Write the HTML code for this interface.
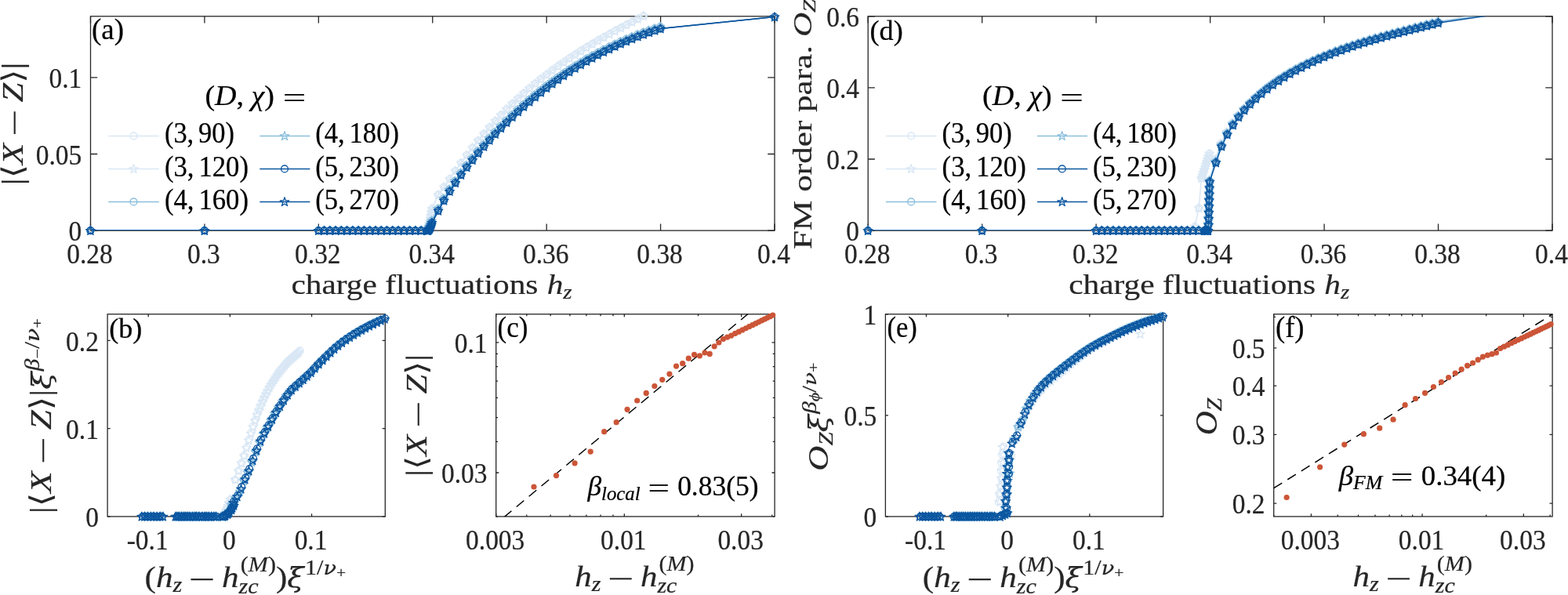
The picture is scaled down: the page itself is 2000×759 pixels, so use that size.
<!DOCTYPE html>
<html><head><meta charset="utf-8"><title>Figure</title>
<style>html,body{margin:0;padding:0;background:#fff;overflow:hidden}svg{display:block}</style></head>
<body><svg width="2000" height="759" viewBox="0 0 2000 759"><defs><path id="st" d="M0.00,-5.70 L1.35,-1.55 L5.71,-1.55 L2.18,1.01 L3.53,5.15 L0.00,2.59 L-3.53,5.15 L-2.18,1.01 L-5.71,-1.55 L-1.35,-1.55 Z" fill="none" stroke-width="1.35" stroke-linejoin="round"/><circle id="ci" r="4.4" fill="none" stroke-width="1.35"/><path id="stS" d="M0.00,-4.30 L1.03,-1.12 L4.37,-1.12 L1.67,0.84 L2.70,4.02 L0.00,2.06 L-2.70,4.02 L-1.67,0.84 L-4.37,-1.12 L-1.03,-1.12 Z" fill="none" stroke-width="1.0"/><circle id="ciS" r="3.2" fill="none" stroke-width="1.0"/><clipPath id="clipa"><rect x="115.5" y="20.8" width="872.5" height="273.3"/></clipPath><clipPath id="clipd"><rect x="1107.2" y="20.8" width="872.8" height="273.3"/></clipPath><clipPath id="clipb"><rect x="137.1" y="400.75" width="354.20000000000005" height="258.15"/></clipPath><clipPath id="clipc"><rect x="632.7" y="400.75" width="355.4" height="258.15"/></clipPath><clipPath id="clipe"><rect x="1129.4" y="400.75" width="354.1999999999998" height="258.15"/></clipPath><clipPath id="clipf"><rect x="1624.7" y="400.75" width="355.39999999999986" height="258.15"/></clipPath></defs><rect width="2000" height="759" fill="#fff"/><g font-family="'Liberation Serif', serif" font-size="35.0" fill="#262626" stroke="#262626" stroke-width="0.25"><rect x="115.50" y="20.80" width="872.50" height="273.30" fill="none" stroke="#262626" stroke-width="1.3"/><path d="M115.50,294.10V285.40M115.50,20.80V29.50M260.92,294.10V285.40M260.92,20.80V29.50M406.33,294.10V285.40M406.33,20.80V29.50M551.75,294.10V285.40M551.75,20.80V29.50M697.17,294.10V285.40M697.17,20.80V29.50M842.58,294.10V285.40M842.58,20.80V29.50M988.00,294.10V285.40M988.00,20.80V29.50M115.50,294.10H124.20M988.00,294.10H979.30M115.50,196.49H124.20M988.00,196.49H979.30M115.50,98.89H124.20M988.00,98.89H979.30" fill="none" stroke="#262626" stroke-width="1.3"/><text transform="translate(114.50,336.30) scale(0.955,1)" text-anchor="middle">0.28</text><text transform="translate(259.92,336.30) scale(0.955,1)" text-anchor="middle">0.3</text><text transform="translate(405.33,336.30) scale(0.955,1)" text-anchor="middle">0.32</text><text transform="translate(550.75,336.30) scale(0.955,1)" text-anchor="middle">0.34</text><text transform="translate(696.17,336.30) scale(0.955,1)" text-anchor="middle">0.36</text><text transform="translate(841.58,336.30) scale(0.955,1)" text-anchor="middle">0.38</text><text transform="translate(987.00,336.30) scale(0.955,1)" text-anchor="middle">0.4</text><text transform="translate(104.30,307.20) scale(0.955,1)" text-anchor="end">0</text><text transform="translate(104.30,209.59) scale(0.955,1)" text-anchor="end">0.05</text><text transform="translate(104.30,111.99) scale(0.955,1)" text-anchor="end">0.1</text><rect x="1107.20" y="20.80" width="872.80" height="273.30" fill="none" stroke="#262626" stroke-width="1.3"/><path d="M1107.20,294.10V285.40M1107.20,20.80V29.50M1252.67,294.10V285.40M1252.67,20.80V29.50M1398.13,294.10V285.40M1398.13,20.80V29.50M1543.60,294.10V285.40M1543.60,20.80V29.50M1689.07,294.10V285.40M1689.07,20.80V29.50M1834.53,294.10V285.40M1834.53,20.80V29.50M1980.00,294.10V285.40M1980.00,20.80V29.50M1107.20,294.10H1115.90M1980.00,294.10H1971.30M1107.20,203.00H1115.90M1980.00,203.00H1971.30M1107.20,111.90H1115.90M1980.00,111.90H1971.30M1107.20,20.80H1115.90M1980.00,20.80H1971.30" fill="none" stroke="#262626" stroke-width="1.3"/><text transform="translate(1106.20,336.30) scale(0.955,1)" text-anchor="middle">0.28</text><text transform="translate(1251.67,336.30) scale(0.955,1)" text-anchor="middle">0.3</text><text transform="translate(1397.13,336.30) scale(0.955,1)" text-anchor="middle">0.32</text><text transform="translate(1542.60,336.30) scale(0.955,1)" text-anchor="middle">0.34</text><text transform="translate(1688.07,336.30) scale(0.955,1)" text-anchor="middle">0.36</text><text transform="translate(1833.53,336.30) scale(0.955,1)" text-anchor="middle">0.38</text><text transform="translate(1979.00,336.30) scale(0.955,1)" text-anchor="middle">0.4</text><text transform="translate(1096.00,307.20) scale(0.955,1)" text-anchor="end">0</text><text transform="translate(1096.00,216.10) scale(0.955,1)" text-anchor="end">0.2</text><text transform="translate(1096.00,125.00) scale(0.955,1)" text-anchor="end">0.4</text><text transform="translate(1096.00,33.90) scale(0.955,1)" text-anchor="end">0.6</text><rect x="137.10" y="400.75" width="354.20" height="258.15" fill="none" stroke="#262626" stroke-width="1.3"/><path d="M189.19,658.90V655.30M189.19,400.75V404.35M293.36,658.90V655.30M293.36,400.75V404.35M397.54,658.90V655.30M397.54,400.75V404.35M137.10,658.90H140.70M491.30,658.90H487.70M137.10,546.66H140.70M491.30,546.66H487.70M137.10,434.42H140.70M491.30,434.42H487.70" fill="none" stroke="#262626" stroke-width="1.3"/><text transform="translate(188.19,701.10) scale(0.955,1)" text-anchor="middle">-0.1</text><text transform="translate(292.36,701.10) scale(0.955,1)" text-anchor="middle">0</text><text transform="translate(396.54,701.10) scale(0.955,1)" text-anchor="middle">0.1</text><text transform="translate(125.90,672.00) scale(0.955,1)" text-anchor="end">0</text><text transform="translate(125.90,559.76) scale(0.955,1)" text-anchor="end">0.1</text><text transform="translate(125.90,447.52) scale(0.955,1)" text-anchor="end">0.2</text><rect x="1129.40" y="400.75" width="354.20" height="258.15" fill="none" stroke="#262626" stroke-width="1.3"/><path d="M1181.49,658.90V655.30M1181.49,400.75V404.35M1285.66,658.90V655.30M1285.66,400.75V404.35M1389.84,658.90V655.30M1389.84,400.75V404.35M1129.40,658.90H1133.00M1483.60,658.90H1480.00M1129.40,529.83H1133.00M1483.60,529.83H1480.00M1129.40,400.75H1133.00M1483.60,400.75H1480.00" fill="none" stroke="#262626" stroke-width="1.3"/><text transform="translate(1180.49,701.10) scale(0.955,1)" text-anchor="middle">-0.1</text><text transform="translate(1284.66,701.10) scale(0.955,1)" text-anchor="middle">0</text><text transform="translate(1388.84,701.10) scale(0.955,1)" text-anchor="middle">0.1</text><text transform="translate(1118.20,672.00) scale(0.955,1)" text-anchor="end">0</text><text transform="translate(1118.20,542.93) scale(0.955,1)" text-anchor="end">0.5</text><text transform="translate(1118.20,413.85) scale(0.955,1)" text-anchor="end">1</text><rect x="632.70" y="400.75" width="355.40" height="258.15" fill="none" stroke="#262626" stroke-width="1.3"/><path d="M632.70,658.90V655.30M632.70,400.75V404.35M796.33,658.90V655.30M796.33,400.75V404.35M945.65,658.90V655.30M945.65,400.75V404.35M632.70,602.98H636.30M988.10,602.98H984.50M632.70,436.93H636.30M988.10,436.93H984.50M671.80,658.90V656.50M671.80,400.75V403.15M702.13,658.90V656.50M702.13,400.75V403.15M726.91,658.90V656.50M726.91,400.75V403.15M747.86,658.90V656.50M747.86,400.75V403.15M766.00,658.90V656.50M766.00,400.75V403.15M782.01,658.90V656.50M782.01,400.75V403.15M890.54,658.90V656.50M890.54,400.75V403.15M984.74,658.90V656.50M984.74,400.75V403.15M632.70,658.90H635.10M988.10,658.90H985.70M632.70,563.30H635.10M988.10,563.30H985.70M632.70,532.53H635.10M988.10,532.53H985.70M632.70,507.38H635.10M988.10,507.38H985.70M632.70,486.12H635.10M988.10,486.12H985.70M632.70,467.71H635.10M988.10,467.71H985.70M632.70,451.46H635.10M988.10,451.46H985.70" fill="none" stroke="#262626" stroke-width="1.3"/><text transform="translate(631.70,701.10) scale(0.955,1)" text-anchor="middle">0.003</text><text transform="translate(795.33,701.10) scale(0.955,1)" text-anchor="middle">0.01</text><text transform="translate(944.65,701.10) scale(0.955,1)" text-anchor="middle">0.03</text><text transform="translate(621.50,616.08) scale(0.955,1)" text-anchor="end">0.03</text><text transform="translate(621.50,450.03) scale(0.955,1)" text-anchor="end">0.1</text><rect x="1624.70" y="400.75" width="355.40" height="258.15" fill="none" stroke="#262626" stroke-width="1.3"/><path d="M1672.41,658.90V655.30M1672.41,400.75V404.35M1814.08,658.90V655.30M1814.08,400.75V404.35M1943.34,658.90V655.30M1943.34,400.75V404.35M1624.70,642.03H1628.30M1980.10,642.03H1976.50M1624.70,554.30H1628.30M1980.10,554.30H1976.50M1624.70,492.06H1628.30M1980.10,492.06H1976.50M1624.70,443.78H1628.30M1980.10,443.78H1976.50M1624.70,658.90V656.50M1624.70,400.75V403.15M1706.26,658.90V656.50M1706.26,400.75V403.15M1732.52,658.90V656.50M1732.52,400.75V403.15M1753.97,658.90V656.50M1753.97,400.75V403.15M1772.11,658.90V656.50M1772.11,400.75V403.15M1787.82,658.90V656.50M1787.82,400.75V403.15M1801.68,658.90V656.50M1801.68,400.75V403.15M1895.63,658.90V656.50M1895.63,400.75V403.15M1977.19,658.90V656.50M1977.19,400.75V403.15M1624.70,404.33H1627.10M1980.10,404.33H1977.70" fill="none" stroke="#262626" stroke-width="1.3"/><text transform="translate(1671.41,701.10) scale(0.955,1)" text-anchor="middle">0.003</text><text transform="translate(1813.08,701.10) scale(0.955,1)" text-anchor="middle">0.01</text><text transform="translate(1942.34,701.10) scale(0.955,1)" text-anchor="middle">0.03</text><text transform="translate(1613.50,655.13) scale(0.955,1)" text-anchor="end">0.2</text><text transform="translate(1613.50,567.40) scale(0.955,1)" text-anchor="end">0.3</text><text transform="translate(1613.50,505.16) scale(0.955,1)" text-anchor="end">0.4</text><text transform="translate(1613.50,456.88) scale(0.955,1)" text-anchor="end">0.5</text></g><path d="M115.50,294.10 L260.92,294.10 L406.33,294.10 L413.60,294.10 L420.87,294.10 L428.15,294.10 L435.42,294.10 L442.69,294.10 L449.96,294.10 L457.23,294.10 L464.50,294.10 L471.77,294.10 L479.04,294.10 L486.31,294.10 L493.58,294.10 L500.85,294.10 L508.12,294.10 L515.40,294.10 L522.67,294.10 L529.94,294.10 L537.21,294.10 L544.48,294.10 L545.21,293.06 L545.93,291.17 L546.66,288.71 L547.39,285.80 L548.11,282.51 L548.84,278.86 L549.57,274.89 L550.30,270.63 L551.02,266.10 L559.02,248.43 L566.29,238.64 L573.56,228.23 L580.83,217.84 L588.10,207.69 L595.38,197.87 L602.65,188.42 L609.92,179.34 L617.19,170.62 L624.46,162.27 L631.73,154.26 L639.00,146.58 L646.27,139.21 L653.54,132.14 L660.81,125.34 L668.08,118.81 L675.35,112.53 L682.63,106.48 L689.90,100.65 L697.17,95.03 L704.44,89.60 L711.71,84.35 L718.98,79.27 L726.25,74.35 L733.52,69.58 L740.79,64.94 L748.06,60.43 L755.33,56.03 L762.60,51.75 L769.88,47.56 L777.15,43.47 L784.42,39.46 L791.69,35.52 L798.96,31.66 L806.23,27.85 L813.50,24.10 L820.77,20.39" fill="none" stroke="#d9e7f5" stroke-width="1.5" clip-path="url(#clipa)"/><g stroke="#d9e7f5"><use href="#ci" x="115.50" y="294.10"/><use href="#ci" x="260.92" y="294.10"/><use href="#ci" x="406.33" y="294.10"/><use href="#ci" x="413.60" y="294.10"/><use href="#ci" x="420.87" y="294.10"/><use href="#ci" x="428.15" y="294.10"/><use href="#ci" x="435.42" y="294.10"/><use href="#ci" x="442.69" y="294.10"/><use href="#ci" x="449.96" y="294.10"/><use href="#ci" x="457.23" y="294.10"/><use href="#ci" x="464.50" y="294.10"/><use href="#ci" x="471.77" y="294.10"/><use href="#ci" x="479.04" y="294.10"/><use href="#ci" x="486.31" y="294.10"/><use href="#ci" x="493.58" y="294.10"/><use href="#ci" x="500.85" y="294.10"/><use href="#ci" x="508.12" y="294.10"/><use href="#ci" x="515.40" y="294.10"/><use href="#ci" x="522.67" y="294.10"/><use href="#ci" x="529.94" y="294.10"/><use href="#ci" x="537.21" y="294.10"/><use href="#ci" x="544.48" y="294.10"/><use href="#ci" x="545.21" y="293.06"/><use href="#ci" x="545.93" y="291.17"/><use href="#ci" x="546.66" y="288.71"/><use href="#ci" x="547.39" y="285.80"/><use href="#ci" x="548.11" y="282.51"/><use href="#ci" x="548.84" y="278.86"/><use href="#ci" x="549.57" y="274.89"/><use href="#ci" x="550.30" y="270.63"/><use href="#ci" x="551.02" y="266.10"/><use href="#ci" x="559.02" y="248.43"/><use href="#ci" x="566.29" y="238.64"/><use href="#ci" x="573.56" y="228.23"/><use href="#ci" x="580.83" y="217.84"/><use href="#ci" x="588.10" y="207.69"/><use href="#ci" x="595.38" y="197.87"/><use href="#ci" x="602.65" y="188.42"/><use href="#ci" x="609.92" y="179.34"/><use href="#ci" x="617.19" y="170.62"/><use href="#ci" x="624.46" y="162.27"/><use href="#ci" x="631.73" y="154.26"/><use href="#ci" x="639.00" y="146.58"/><use href="#ci" x="646.27" y="139.21"/><use href="#ci" x="653.54" y="132.14"/><use href="#ci" x="660.81" y="125.34"/><use href="#ci" x="668.08" y="118.81"/><use href="#ci" x="675.35" y="112.53"/><use href="#ci" x="682.63" y="106.48"/><use href="#ci" x="689.90" y="100.65"/><use href="#ci" x="697.17" y="95.03"/><use href="#ci" x="704.44" y="89.60"/><use href="#ci" x="711.71" y="84.35"/><use href="#ci" x="718.98" y="79.27"/><use href="#ci" x="726.25" y="74.35"/><use href="#ci" x="733.52" y="69.58"/><use href="#ci" x="740.79" y="64.94"/><use href="#ci" x="748.06" y="60.43"/><use href="#ci" x="755.33" y="56.03"/><use href="#ci" x="762.60" y="51.75"/><use href="#ci" x="769.88" y="47.56"/><use href="#ci" x="777.15" y="43.47"/><use href="#ci" x="784.42" y="39.46"/><use href="#ci" x="791.69" y="35.52"/><use href="#ci" x="798.96" y="31.66"/><use href="#ci" x="806.23" y="27.85"/><use href="#ci" x="813.50" y="24.10"/><use href="#ci" x="820.77" y="20.39"/></g><path d="M115.50,294.10 L260.92,294.10 L406.33,294.10 L413.60,294.10 L420.87,294.10 L428.15,294.10 L435.42,294.10 L442.69,294.10 L449.96,294.10 L457.23,294.10 L464.50,294.10 L471.77,294.10 L479.04,294.10 L486.31,294.10 L493.58,294.10 L500.85,294.10 L508.12,294.10 L515.40,294.10 L522.67,294.10 L529.94,294.10 L537.21,294.10 L544.48,294.10 L545.21,293.06 L545.93,291.17 L546.66,288.71 L547.39,285.80 L548.11,282.51 L548.84,278.86 L549.57,274.89 L550.30,270.63 L551.02,266.10 L559.02,248.43 L566.29,238.64 L573.56,228.23 L580.83,217.84 L588.10,207.69 L595.38,197.87 L602.65,188.42 L609.92,179.34 L617.19,170.62 L624.46,162.27 L631.73,154.26 L639.00,146.58 L646.27,139.21 L653.54,132.14 L660.81,125.34 L668.08,118.81 L675.35,112.53 L682.63,106.48 L689.90,100.65 L697.17,95.03 L704.44,89.60 L711.71,84.35 L718.98,79.27 L726.25,74.35 L733.52,69.58 L740.79,64.94 L748.06,60.43 L755.33,56.03 L762.60,51.75 L769.88,47.56 L777.15,43.47 L784.42,39.46 L791.69,35.52 L798.96,31.66 L806.23,27.85 L813.50,24.10 L820.77,20.39" fill="none" stroke="#d9e7f5" stroke-width="1.5" clip-path="url(#clipa)"/><g stroke="#d9e7f5"><use href="#st" x="115.50" y="294.10"/><use href="#st" x="260.92" y="294.10"/><use href="#st" x="406.33" y="294.10"/><use href="#st" x="413.60" y="294.10"/><use href="#st" x="420.87" y="294.10"/><use href="#st" x="428.15" y="294.10"/><use href="#st" x="435.42" y="294.10"/><use href="#st" x="442.69" y="294.10"/><use href="#st" x="449.96" y="294.10"/><use href="#st" x="457.23" y="294.10"/><use href="#st" x="464.50" y="294.10"/><use href="#st" x="471.77" y="294.10"/><use href="#st" x="479.04" y="294.10"/><use href="#st" x="486.31" y="294.10"/><use href="#st" x="493.58" y="294.10"/><use href="#st" x="500.85" y="294.10"/><use href="#st" x="508.12" y="294.10"/><use href="#st" x="515.40" y="294.10"/><use href="#st" x="522.67" y="294.10"/><use href="#st" x="529.94" y="294.10"/><use href="#st" x="537.21" y="294.10"/><use href="#st" x="544.48" y="294.10"/><use href="#st" x="545.21" y="293.06"/><use href="#st" x="545.93" y="291.17"/><use href="#st" x="546.66" y="288.71"/><use href="#st" x="547.39" y="285.80"/><use href="#st" x="548.11" y="282.51"/><use href="#st" x="548.84" y="278.86"/><use href="#st" x="549.57" y="274.89"/><use href="#st" x="550.30" y="270.63"/><use href="#st" x="551.02" y="266.10"/><use href="#st" x="559.02" y="248.43"/><use href="#st" x="566.29" y="238.64"/><use href="#st" x="573.56" y="228.23"/><use href="#st" x="580.83" y="217.84"/><use href="#st" x="588.10" y="207.69"/><use href="#st" x="595.38" y="197.87"/><use href="#st" x="602.65" y="188.42"/><use href="#st" x="609.92" y="179.34"/><use href="#st" x="617.19" y="170.62"/><use href="#st" x="624.46" y="162.27"/><use href="#st" x="631.73" y="154.26"/><use href="#st" x="639.00" y="146.58"/><use href="#st" x="646.27" y="139.21"/><use href="#st" x="653.54" y="132.14"/><use href="#st" x="660.81" y="125.34"/><use href="#st" x="668.08" y="118.81"/><use href="#st" x="675.35" y="112.53"/><use href="#st" x="682.63" y="106.48"/><use href="#st" x="689.90" y="100.65"/><use href="#st" x="697.17" y="95.03"/><use href="#st" x="704.44" y="89.60"/><use href="#st" x="711.71" y="84.35"/><use href="#st" x="718.98" y="79.27"/><use href="#st" x="726.25" y="74.35"/><use href="#st" x="733.52" y="69.58"/><use href="#st" x="740.79" y="64.94"/><use href="#st" x="748.06" y="60.43"/><use href="#st" x="755.33" y="56.03"/><use href="#st" x="762.60" y="51.75"/><use href="#st" x="769.88" y="47.56"/><use href="#st" x="777.15" y="43.47"/><use href="#st" x="784.42" y="39.46"/><use href="#st" x="791.69" y="35.52"/><use href="#st" x="798.96" y="31.66"/><use href="#st" x="806.23" y="27.85"/><use href="#st" x="813.50" y="24.10"/><use href="#st" x="820.77" y="20.39"/></g><path d="M115.00,294.10 L260.42,294.10 L405.83,294.10 L413.10,294.10 L420.37,294.10 L427.65,294.10 L434.92,294.10 L442.19,294.10 L449.46,294.10 L456.73,294.10 L464.00,294.10 L471.27,294.10 L478.54,294.10 L485.81,294.10 L493.08,294.10 L500.35,294.10 L507.62,294.10 L514.90,294.10 L522.17,294.10 L529.44,294.10 L536.71,294.10 L543.98,294.10 L544.71,294.06 L545.43,293.87 L546.16,293.46 L546.89,290.28 L547.61,289.30 L548.34,287.97 L549.07,286.26 L549.80,284.15 L550.52,281.60 L558.52,266.34 L565.79,253.32 L573.06,241.65 L580.33,230.82 L587.60,220.63 L594.88,210.96 L602.15,201.75 L609.42,192.93 L616.69,184.47 L623.96,176.35 L631.23,168.53 L638.50,161.01 L645.77,153.76 L653.04,146.76 L660.31,140.02 L667.58,133.52 L674.85,127.24 L682.13,121.18 L689.40,115.34 L696.67,109.71 L703.94,104.28 L711.21,99.04 L718.48,94.00 L725.75,89.14 L733.02,84.47 L740.29,79.97 L747.56,75.65 L754.83,71.50 L762.10,67.52 L769.38,63.70 L776.65,60.05 L783.92,56.56 L791.19,53.22 L798.46,50.04 L805.73,47.01 L813.00,44.13 L820.27,41.40 L827.54,38.81 L834.81,36.38 L842.08,34.08" fill="none" stroke="#8bbfdd" stroke-width="1.5" clip-path="url(#clipa)"/><g stroke="#8bbfdd"><use href="#ci" x="115.00" y="294.10"/><use href="#ci" x="260.42" y="294.10"/><use href="#ci" x="405.83" y="294.10"/><use href="#ci" x="413.10" y="294.10"/><use href="#ci" x="420.37" y="294.10"/><use href="#ci" x="427.65" y="294.10"/><use href="#ci" x="434.92" y="294.10"/><use href="#ci" x="442.19" y="294.10"/><use href="#ci" x="449.46" y="294.10"/><use href="#ci" x="456.73" y="294.10"/><use href="#ci" x="464.00" y="294.10"/><use href="#ci" x="471.27" y="294.10"/><use href="#ci" x="478.54" y="294.10"/><use href="#ci" x="485.81" y="294.10"/><use href="#ci" x="493.08" y="294.10"/><use href="#ci" x="500.35" y="294.10"/><use href="#ci" x="507.62" y="294.10"/><use href="#ci" x="514.90" y="294.10"/><use href="#ci" x="522.17" y="294.10"/><use href="#ci" x="529.44" y="294.10"/><use href="#ci" x="536.71" y="294.10"/><use href="#ci" x="543.98" y="294.10"/><use href="#ci" x="544.71" y="294.06"/><use href="#ci" x="545.43" y="293.87"/><use href="#ci" x="546.16" y="293.46"/><use href="#ci" x="546.89" y="290.28"/><use href="#ci" x="547.61" y="289.30"/><use href="#ci" x="548.34" y="287.97"/><use href="#ci" x="549.07" y="286.26"/><use href="#ci" x="549.80" y="284.15"/><use href="#ci" x="550.52" y="281.60"/><use href="#ci" x="558.52" y="266.34"/><use href="#ci" x="565.79" y="253.32"/><use href="#ci" x="573.06" y="241.65"/><use href="#ci" x="580.33" y="230.82"/><use href="#ci" x="587.60" y="220.63"/><use href="#ci" x="594.88" y="210.96"/><use href="#ci" x="602.15" y="201.75"/><use href="#ci" x="609.42" y="192.93"/><use href="#ci" x="616.69" y="184.47"/><use href="#ci" x="623.96" y="176.35"/><use href="#ci" x="631.23" y="168.53"/><use href="#ci" x="638.50" y="161.01"/><use href="#ci" x="645.77" y="153.76"/><use href="#ci" x="653.04" y="146.76"/><use href="#ci" x="660.31" y="140.02"/><use href="#ci" x="667.58" y="133.52"/><use href="#ci" x="674.85" y="127.24"/><use href="#ci" x="682.13" y="121.18"/><use href="#ci" x="689.40" y="115.34"/><use href="#ci" x="696.67" y="109.71"/><use href="#ci" x="703.94" y="104.28"/><use href="#ci" x="711.21" y="99.04"/><use href="#ci" x="718.48" y="94.00"/><use href="#ci" x="725.75" y="89.14"/><use href="#ci" x="733.02" y="84.47"/><use href="#ci" x="740.29" y="79.97"/><use href="#ci" x="747.56" y="75.65"/><use href="#ci" x="754.83" y="71.50"/><use href="#ci" x="762.10" y="67.52"/><use href="#ci" x="769.38" y="63.70"/><use href="#ci" x="776.65" y="60.05"/><use href="#ci" x="783.92" y="56.56"/><use href="#ci" x="791.19" y="53.22"/><use href="#ci" x="798.46" y="50.04"/><use href="#ci" x="805.73" y="47.01"/><use href="#ci" x="813.00" y="44.13"/><use href="#ci" x="820.27" y="41.40"/><use href="#ci" x="827.54" y="38.81"/><use href="#ci" x="834.81" y="36.38"/><use href="#ci" x="842.08" y="34.08"/></g><path d="M115.00,294.10 L260.42,294.10 L405.83,294.10 L413.10,294.10 L420.37,294.10 L427.65,294.10 L434.92,294.10 L442.19,294.10 L449.46,294.10 L456.73,294.10 L464.00,294.10 L471.27,294.10 L478.54,294.10 L485.81,294.10 L493.08,294.10 L500.35,294.10 L507.62,294.10 L514.90,294.10 L522.17,294.10 L529.44,294.10 L536.71,294.10 L543.98,294.10 L544.71,294.06 L545.43,293.87 L546.16,293.46 L546.89,290.28 L547.61,289.30 L548.34,287.97 L549.07,286.26 L549.80,284.15 L550.52,281.60 L558.52,266.34 L565.79,253.32 L573.06,241.65 L580.33,230.82 L587.60,220.63 L594.88,210.96 L602.15,201.75 L609.42,192.93 L616.69,184.47 L623.96,176.35 L631.23,168.53 L638.50,161.01 L645.77,153.76 L653.04,146.76 L660.31,140.02 L667.58,133.52 L674.85,127.24 L682.13,121.18 L689.40,115.34 L696.67,109.71 L703.94,104.28 L711.21,99.04 L718.48,94.00 L725.75,89.14 L733.02,84.47 L740.29,79.97 L747.56,75.65 L754.83,71.50 L762.10,67.52 L769.38,63.70 L776.65,60.05 L783.92,56.56 L791.19,53.22 L798.46,50.04 L805.73,47.01 L813.00,44.13 L820.27,41.40 L827.54,38.81 L834.81,36.38 L842.08,34.08" fill="none" stroke="#8bbfdd" stroke-width="1.5" clip-path="url(#clipa)"/><g stroke="#8bbfdd"><use href="#st" x="115.00" y="294.10"/><use href="#st" x="260.42" y="294.10"/><use href="#st" x="405.83" y="294.10"/><use href="#st" x="413.10" y="294.10"/><use href="#st" x="420.37" y="294.10"/><use href="#st" x="427.65" y="294.10"/><use href="#st" x="434.92" y="294.10"/><use href="#st" x="442.19" y="294.10"/><use href="#st" x="449.46" y="294.10"/><use href="#st" x="456.73" y="294.10"/><use href="#st" x="464.00" y="294.10"/><use href="#st" x="471.27" y="294.10"/><use href="#st" x="478.54" y="294.10"/><use href="#st" x="485.81" y="294.10"/><use href="#st" x="493.08" y="294.10"/><use href="#st" x="500.35" y="294.10"/><use href="#st" x="507.62" y="294.10"/><use href="#st" x="514.90" y="294.10"/><use href="#st" x="522.17" y="294.10"/><use href="#st" x="529.44" y="294.10"/><use href="#st" x="536.71" y="294.10"/><use href="#st" x="543.98" y="294.10"/><use href="#st" x="544.71" y="294.06"/><use href="#st" x="545.43" y="293.87"/><use href="#st" x="546.16" y="293.46"/><use href="#st" x="546.89" y="290.28"/><use href="#st" x="547.61" y="289.30"/><use href="#st" x="548.34" y="287.97"/><use href="#st" x="549.07" y="286.26"/><use href="#st" x="549.80" y="284.15"/><use href="#st" x="550.52" y="281.60"/><use href="#st" x="558.52" y="266.34"/><use href="#st" x="565.79" y="253.32"/><use href="#st" x="573.06" y="241.65"/><use href="#st" x="580.33" y="230.82"/><use href="#st" x="587.60" y="220.63"/><use href="#st" x="594.88" y="210.96"/><use href="#st" x="602.15" y="201.75"/><use href="#st" x="609.42" y="192.93"/><use href="#st" x="616.69" y="184.47"/><use href="#st" x="623.96" y="176.35"/><use href="#st" x="631.23" y="168.53"/><use href="#st" x="638.50" y="161.01"/><use href="#st" x="645.77" y="153.76"/><use href="#st" x="653.04" y="146.76"/><use href="#st" x="660.31" y="140.02"/><use href="#st" x="667.58" y="133.52"/><use href="#st" x="674.85" y="127.24"/><use href="#st" x="682.13" y="121.18"/><use href="#st" x="689.40" y="115.34"/><use href="#st" x="696.67" y="109.71"/><use href="#st" x="703.94" y="104.28"/><use href="#st" x="711.21" y="99.04"/><use href="#st" x="718.48" y="94.00"/><use href="#st" x="725.75" y="89.14"/><use href="#st" x="733.02" y="84.47"/><use href="#st" x="740.29" y="79.97"/><use href="#st" x="747.56" y="75.65"/><use href="#st" x="754.83" y="71.50"/><use href="#st" x="762.10" y="67.52"/><use href="#st" x="769.38" y="63.70"/><use href="#st" x="776.65" y="60.05"/><use href="#st" x="783.92" y="56.56"/><use href="#st" x="791.19" y="53.22"/><use href="#st" x="798.46" y="50.04"/><use href="#st" x="805.73" y="47.01"/><use href="#st" x="813.00" y="44.13"/><use href="#st" x="820.27" y="41.40"/><use href="#st" x="827.54" y="38.81"/><use href="#st" x="834.81" y="36.38"/><use href="#st" x="842.08" y="34.08"/></g><path d="M115.50,294.10 L260.92,294.10 L406.33,294.10 L413.60,294.10 L420.87,294.10 L428.15,294.10 L435.42,294.10 L442.69,294.10 L449.96,294.10 L457.23,294.10 L464.50,294.10 L471.77,294.10 L479.04,294.10 L486.31,294.10 L493.58,294.10 L500.85,294.10 L508.12,294.10 L515.40,294.10 L522.67,294.10 L529.94,294.10 L537.21,294.10 L544.48,294.10 L545.21,294.06 L545.93,293.87 L546.66,293.46 L547.39,292.78 L548.11,291.80 L548.84,290.47 L549.57,288.76 L550.30,286.65 L551.02,284.10 L559.02,268.84 L566.29,255.82 L573.56,244.15 L580.83,233.32 L588.10,223.13 L595.38,213.46 L602.65,204.25 L609.92,195.43 L617.19,186.97 L624.46,178.85 L631.73,171.03 L639.00,163.51 L646.27,156.26 L653.54,149.26 L660.81,142.52 L668.08,136.02 L675.35,129.74 L682.63,123.68 L689.90,117.84 L697.17,112.21 L704.44,106.78 L711.71,101.54 L718.98,96.50 L726.25,91.64 L733.52,86.97 L740.79,82.47 L748.06,78.15 L755.33,74.00 L762.60,70.02 L769.88,66.20 L777.15,62.55 L784.42,59.06 L791.69,55.72 L798.96,52.54 L806.23,49.51 L813.50,46.63 L820.77,43.90 L828.04,41.31 L835.31,38.88 L842.58,36.58 L988.00,21.58" fill="none" stroke="#0b56a0" stroke-width="1.5" clip-path="url(#clipa)"/><g stroke="#0b56a0"><use href="#ci" x="115.50" y="294.10"/><use href="#ci" x="260.92" y="294.10"/><use href="#ci" x="406.33" y="294.10"/><use href="#ci" x="413.60" y="294.10"/><use href="#ci" x="420.87" y="294.10"/><use href="#ci" x="428.15" y="294.10"/><use href="#ci" x="435.42" y="294.10"/><use href="#ci" x="442.69" y="294.10"/><use href="#ci" x="449.96" y="294.10"/><use href="#ci" x="457.23" y="294.10"/><use href="#ci" x="464.50" y="294.10"/><use href="#ci" x="471.77" y="294.10"/><use href="#ci" x="479.04" y="294.10"/><use href="#ci" x="486.31" y="294.10"/><use href="#ci" x="493.58" y="294.10"/><use href="#ci" x="500.85" y="294.10"/><use href="#ci" x="508.12" y="294.10"/><use href="#ci" x="515.40" y="294.10"/><use href="#ci" x="522.67" y="294.10"/><use href="#ci" x="529.94" y="294.10"/><use href="#ci" x="537.21" y="294.10"/><use href="#ci" x="544.48" y="294.10"/><use href="#ci" x="545.21" y="294.06"/><use href="#ci" x="545.93" y="293.87"/><use href="#ci" x="546.66" y="293.46"/><use href="#ci" x="547.39" y="292.78"/><use href="#ci" x="548.11" y="291.80"/><use href="#ci" x="548.84" y="290.47"/><use href="#ci" x="549.57" y="288.76"/><use href="#ci" x="550.30" y="286.65"/><use href="#ci" x="551.02" y="284.10"/><use href="#ci" x="559.02" y="268.84"/><use href="#ci" x="566.29" y="255.82"/><use href="#ci" x="573.56" y="244.15"/><use href="#ci" x="580.83" y="233.32"/><use href="#ci" x="588.10" y="223.13"/><use href="#ci" x="595.38" y="213.46"/><use href="#ci" x="602.65" y="204.25"/><use href="#ci" x="609.92" y="195.43"/><use href="#ci" x="617.19" y="186.97"/><use href="#ci" x="624.46" y="178.85"/><use href="#ci" x="631.73" y="171.03"/><use href="#ci" x="639.00" y="163.51"/><use href="#ci" x="646.27" y="156.26"/><use href="#ci" x="653.54" y="149.26"/><use href="#ci" x="660.81" y="142.52"/><use href="#ci" x="668.08" y="136.02"/><use href="#ci" x="675.35" y="129.74"/><use href="#ci" x="682.63" y="123.68"/><use href="#ci" x="689.90" y="117.84"/><use href="#ci" x="697.17" y="112.21"/><use href="#ci" x="704.44" y="106.78"/><use href="#ci" x="711.71" y="101.54"/><use href="#ci" x="718.98" y="96.50"/><use href="#ci" x="726.25" y="91.64"/><use href="#ci" x="733.52" y="86.97"/><use href="#ci" x="740.79" y="82.47"/><use href="#ci" x="748.06" y="78.15"/><use href="#ci" x="755.33" y="74.00"/><use href="#ci" x="762.60" y="70.02"/><use href="#ci" x="769.88" y="66.20"/><use href="#ci" x="777.15" y="62.55"/><use href="#ci" x="784.42" y="59.06"/><use href="#ci" x="791.69" y="55.72"/><use href="#ci" x="798.96" y="52.54"/><use href="#ci" x="806.23" y="49.51"/><use href="#ci" x="813.50" y="46.63"/><use href="#ci" x="820.77" y="43.90"/><use href="#ci" x="828.04" y="41.31"/><use href="#ci" x="835.31" y="38.88"/><use href="#ci" x="842.58" y="36.58"/><use href="#ci" x="988.00" y="21.58"/></g><path d="M115.50,294.10 L260.92,294.10 L406.33,294.10 L413.60,294.10 L420.87,294.10 L428.15,294.10 L435.42,294.10 L442.69,294.10 L449.96,294.10 L457.23,294.10 L464.50,294.10 L471.77,294.10 L479.04,294.10 L486.31,294.10 L493.58,294.10 L500.85,294.10 L508.12,294.10 L515.40,294.10 L522.67,294.10 L529.94,294.10 L537.21,294.10 L544.48,294.10 L545.21,294.06 L545.93,293.87 L546.66,293.46 L547.39,292.78 L548.11,291.80 L548.84,290.47 L549.57,288.76 L550.30,286.65 L551.02,284.10 L559.02,268.84 L566.29,255.82 L573.56,244.15 L580.83,233.32 L588.10,223.13 L595.38,213.46 L602.65,204.25 L609.92,195.43 L617.19,186.97 L624.46,178.85 L631.73,171.03 L639.00,163.51 L646.27,156.26 L653.54,149.26 L660.81,142.52 L668.08,136.02 L675.35,129.74 L682.63,123.68 L689.90,117.84 L697.17,112.21 L704.44,106.78 L711.71,101.54 L718.98,96.50 L726.25,91.64 L733.52,86.97 L740.79,82.47 L748.06,78.15 L755.33,74.00 L762.60,70.02 L769.88,66.20 L777.15,62.55 L784.42,59.06 L791.69,55.72 L798.96,52.54 L806.23,49.51 L813.50,46.63 L820.77,43.90 L828.04,41.31 L835.31,38.88 L842.58,36.58 L988.00,21.58" fill="none" stroke="#0b56a0" stroke-width="1.5" clip-path="url(#clipa)"/><g stroke="#0b56a0"><use href="#st" x="115.50" y="294.10"/><use href="#st" x="260.92" y="294.10"/><use href="#st" x="406.33" y="294.10"/><use href="#st" x="413.60" y="294.10"/><use href="#st" x="420.87" y="294.10"/><use href="#st" x="428.15" y="294.10"/><use href="#st" x="435.42" y="294.10"/><use href="#st" x="442.69" y="294.10"/><use href="#st" x="449.96" y="294.10"/><use href="#st" x="457.23" y="294.10"/><use href="#st" x="464.50" y="294.10"/><use href="#st" x="471.77" y="294.10"/><use href="#st" x="479.04" y="294.10"/><use href="#st" x="486.31" y="294.10"/><use href="#st" x="493.58" y="294.10"/><use href="#st" x="500.85" y="294.10"/><use href="#st" x="508.12" y="294.10"/><use href="#st" x="515.40" y="294.10"/><use href="#st" x="522.67" y="294.10"/><use href="#st" x="529.94" y="294.10"/><use href="#st" x="537.21" y="294.10"/><use href="#st" x="544.48" y="294.10"/><use href="#st" x="545.21" y="294.06"/><use href="#st" x="545.93" y="293.87"/><use href="#st" x="546.66" y="293.46"/><use href="#st" x="547.39" y="292.78"/><use href="#st" x="548.11" y="291.80"/><use href="#st" x="548.84" y="290.47"/><use href="#st" x="549.57" y="288.76"/><use href="#st" x="550.30" y="286.65"/><use href="#st" x="551.02" y="284.10"/><use href="#st" x="559.02" y="268.84"/><use href="#st" x="566.29" y="255.82"/><use href="#st" x="573.56" y="244.15"/><use href="#st" x="580.83" y="233.32"/><use href="#st" x="588.10" y="223.13"/><use href="#st" x="595.38" y="213.46"/><use href="#st" x="602.65" y="204.25"/><use href="#st" x="609.92" y="195.43"/><use href="#st" x="617.19" y="186.97"/><use href="#st" x="624.46" y="178.85"/><use href="#st" x="631.73" y="171.03"/><use href="#st" x="639.00" y="163.51"/><use href="#st" x="646.27" y="156.26"/><use href="#st" x="653.54" y="149.26"/><use href="#st" x="660.81" y="142.52"/><use href="#st" x="668.08" y="136.02"/><use href="#st" x="675.35" y="129.74"/><use href="#st" x="682.63" y="123.68"/><use href="#st" x="689.90" y="117.84"/><use href="#st" x="697.17" y="112.21"/><use href="#st" x="704.44" y="106.78"/><use href="#st" x="711.71" y="101.54"/><use href="#st" x="718.98" y="96.50"/><use href="#st" x="726.25" y="91.64"/><use href="#st" x="733.52" y="86.97"/><use href="#st" x="740.79" y="82.47"/><use href="#st" x="748.06" y="78.15"/><use href="#st" x="755.33" y="74.00"/><use href="#st" x="762.60" y="70.02"/><use href="#st" x="769.88" y="66.20"/><use href="#st" x="777.15" y="62.55"/><use href="#st" x="784.42" y="59.06"/><use href="#st" x="791.69" y="55.72"/><use href="#st" x="798.96" y="52.54"/><use href="#st" x="806.23" y="49.51"/><use href="#st" x="813.50" y="46.63"/><use href="#st" x="820.77" y="43.90"/><use href="#st" x="828.04" y="41.31"/><use href="#st" x="835.31" y="38.88"/><use href="#st" x="842.58" y="36.58"/><use href="#st" x="988.00" y="21.58"/></g><path d="M1107.20,294.10 L1252.67,294.10 L1398.13,294.10 L1405.41,294.10 L1412.68,294.10 L1419.95,294.10 L1427.23,294.10 L1434.50,294.10 L1441.77,294.10 L1449.05,294.10 L1456.32,294.10 L1463.59,294.10 L1470.87,294.10 L1478.14,294.10 L1485.41,294.10 L1492.69,294.10 L1499.96,294.10 L1507.23,294.10 L1514.51,294.10 L1524.00,289.00 L1529.20,265.40 L1532.40,227.40 L1533.54,223.89 L1534.69,220.38 L1535.83,216.87 L1536.98,213.36 L1538.12,209.84 L1539.27,206.33 L1540.41,202.82 L1541.56,199.31 L1542.70,195.80 L1549.87,203.34 L1557.15,182.97 L1564.42,168.34 L1571.69,156.75 L1578.97,147.07 L1586.24,138.72 L1593.51,131.37 L1600.79,124.68 L1608.06,118.30 L1615.33,112.44 L1622.61,107.02 L1629.88,101.99 L1637.15,97.30 L1644.43,92.90 L1651.70,88.78 L1658.97,84.89 L1666.25,81.23 L1673.52,77.76 L1680.79,74.48 L1688.07,71.36 L1695.34,68.40 L1702.61,65.58 L1709.89,62.88 L1717.16,60.31 L1724.43,57.84 L1731.71,55.47 L1738.98,53.18 L1746.25,50.98 L1753.53,48.85 L1760.80,46.79 L1768.07,44.78 L1775.35,42.82 L1782.62,40.90 L1789.89,39.02 L1797.17,37.16 L1804.44,35.33 L1811.71,33.51 L1818.99,31.69 L1826.26,29.88 L1833.53,28.06 L1951.93,6.28" fill="none" stroke="#d9e7f5" stroke-width="1.5" clip-path="url(#clipd)"/><g stroke="#d9e7f5"><use href="#ci" x="1107.20" y="294.10"/><use href="#ci" x="1252.67" y="294.10"/><use href="#ci" x="1398.13" y="294.10"/><use href="#ci" x="1405.41" y="294.10"/><use href="#ci" x="1412.68" y="294.10"/><use href="#ci" x="1419.95" y="294.10"/><use href="#ci" x="1427.23" y="294.10"/><use href="#ci" x="1434.50" y="294.10"/><use href="#ci" x="1441.77" y="294.10"/><use href="#ci" x="1449.05" y="294.10"/><use href="#ci" x="1456.32" y="294.10"/><use href="#ci" x="1463.59" y="294.10"/><use href="#ci" x="1470.87" y="294.10"/><use href="#ci" x="1478.14" y="294.10"/><use href="#ci" x="1485.41" y="294.10"/><use href="#ci" x="1492.69" y="294.10"/><use href="#ci" x="1499.96" y="294.10"/><use href="#ci" x="1507.23" y="294.10"/><use href="#ci" x="1514.51" y="294.10"/><use href="#ci" x="1524.00" y="289.00"/><use href="#ci" x="1529.20" y="265.40"/><use href="#ci" x="1532.40" y="227.40"/><use href="#ci" x="1533.54" y="223.89"/><use href="#ci" x="1534.69" y="220.38"/><use href="#ci" x="1535.83" y="216.87"/><use href="#ci" x="1536.98" y="213.36"/><use href="#ci" x="1538.12" y="209.84"/><use href="#ci" x="1539.27" y="206.33"/><use href="#ci" x="1540.41" y="202.82"/><use href="#ci" x="1541.56" y="199.31"/><use href="#ci" x="1542.70" y="195.80"/><use href="#ci" x="1549.87" y="203.34"/><use href="#ci" x="1557.15" y="182.97"/><use href="#ci" x="1564.42" y="168.34"/><use href="#ci" x="1571.69" y="156.75"/><use href="#ci" x="1578.97" y="147.07"/><use href="#ci" x="1586.24" y="138.72"/><use href="#ci" x="1593.51" y="131.37"/><use href="#ci" x="1600.79" y="124.68"/><use href="#ci" x="1608.06" y="118.30"/><use href="#ci" x="1615.33" y="112.44"/><use href="#ci" x="1622.61" y="107.02"/><use href="#ci" x="1629.88" y="101.99"/><use href="#ci" x="1637.15" y="97.30"/><use href="#ci" x="1644.43" y="92.90"/><use href="#ci" x="1651.70" y="88.78"/><use href="#ci" x="1658.97" y="84.89"/><use href="#ci" x="1666.25" y="81.23"/><use href="#ci" x="1673.52" y="77.76"/><use href="#ci" x="1680.79" y="74.48"/><use href="#ci" x="1688.07" y="71.36"/><use href="#ci" x="1695.34" y="68.40"/><use href="#ci" x="1702.61" y="65.58"/><use href="#ci" x="1709.89" y="62.88"/><use href="#ci" x="1717.16" y="60.31"/><use href="#ci" x="1724.43" y="57.84"/><use href="#ci" x="1731.71" y="55.47"/><use href="#ci" x="1738.98" y="53.18"/><use href="#ci" x="1746.25" y="50.98"/><use href="#ci" x="1753.53" y="48.85"/><use href="#ci" x="1760.80" y="46.79"/><use href="#ci" x="1768.07" y="44.78"/><use href="#ci" x="1775.35" y="42.82"/><use href="#ci" x="1782.62" y="40.90"/><use href="#ci" x="1789.89" y="39.02"/><use href="#ci" x="1797.17" y="37.16"/><use href="#ci" x="1804.44" y="35.33"/><use href="#ci" x="1811.71" y="33.51"/><use href="#ci" x="1818.99" y="31.69"/><use href="#ci" x="1826.26" y="29.88"/><use href="#ci" x="1833.53" y="28.06"/></g><g stroke="#d9e7f5"><use href="#st" x="1107.20" y="294.10"/><use href="#st" x="1252.67" y="294.10"/><use href="#st" x="1398.13" y="294.10"/><use href="#st" x="1405.41" y="294.10"/><use href="#st" x="1412.68" y="294.10"/><use href="#st" x="1419.95" y="294.10"/><use href="#st" x="1427.23" y="294.10"/><use href="#st" x="1434.50" y="294.10"/><use href="#st" x="1441.77" y="294.10"/><use href="#st" x="1449.05" y="294.10"/><use href="#st" x="1456.32" y="294.10"/><use href="#st" x="1463.59" y="294.10"/><use href="#st" x="1470.87" y="294.10"/><use href="#st" x="1478.14" y="294.10"/><use href="#st" x="1485.41" y="294.10"/><use href="#st" x="1492.69" y="294.10"/><use href="#st" x="1499.96" y="294.10"/><use href="#st" x="1507.23" y="294.10"/><use href="#st" x="1514.51" y="294.10"/><use href="#st" x="1524.00" y="289.00"/><use href="#st" x="1529.20" y="265.40"/><use href="#st" x="1532.40" y="227.40"/><use href="#st" x="1533.54" y="223.89"/><use href="#st" x="1534.69" y="220.38"/><use href="#st" x="1535.83" y="216.87"/><use href="#st" x="1536.98" y="213.36"/><use href="#st" x="1538.12" y="209.84"/><use href="#st" x="1539.27" y="206.33"/><use href="#st" x="1540.41" y="202.82"/><use href="#st" x="1541.56" y="199.31"/><use href="#st" x="1542.70" y="195.80"/><use href="#st" x="1549.87" y="203.34"/><use href="#st" x="1557.15" y="182.97"/><use href="#st" x="1564.42" y="168.34"/><use href="#st" x="1571.69" y="156.75"/><use href="#st" x="1578.97" y="147.07"/><use href="#st" x="1586.24" y="138.72"/><use href="#st" x="1593.51" y="131.37"/><use href="#st" x="1600.79" y="124.68"/><use href="#st" x="1608.06" y="118.30"/><use href="#st" x="1615.33" y="112.44"/><use href="#st" x="1622.61" y="107.02"/><use href="#st" x="1629.88" y="101.99"/><use href="#st" x="1637.15" y="97.30"/><use href="#st" x="1644.43" y="92.90"/><use href="#st" x="1651.70" y="88.78"/><use href="#st" x="1658.97" y="84.89"/><use href="#st" x="1666.25" y="81.23"/><use href="#st" x="1673.52" y="77.76"/><use href="#st" x="1680.79" y="74.48"/><use href="#st" x="1688.07" y="71.36"/><use href="#st" x="1695.34" y="68.40"/><use href="#st" x="1702.61" y="65.58"/><use href="#st" x="1709.89" y="62.88"/><use href="#st" x="1717.16" y="60.31"/><use href="#st" x="1724.43" y="57.84"/><use href="#st" x="1731.71" y="55.47"/><use href="#st" x="1738.98" y="53.18"/><use href="#st" x="1746.25" y="50.98"/><use href="#st" x="1753.53" y="48.85"/><use href="#st" x="1760.80" y="46.79"/><use href="#st" x="1768.07" y="44.78"/><use href="#st" x="1775.35" y="42.82"/><use href="#st" x="1782.62" y="40.90"/><use href="#st" x="1789.89" y="39.02"/><use href="#st" x="1797.17" y="37.16"/><use href="#st" x="1804.44" y="35.33"/><use href="#st" x="1811.71" y="33.51"/><use href="#st" x="1818.99" y="31.69"/><use href="#st" x="1826.26" y="29.88"/><use href="#st" x="1833.53" y="28.06"/></g><path d="M1106.70,294.10 L1252.17,294.10 L1397.63,294.10 L1404.91,294.10 L1412.18,294.10 L1419.45,294.10 L1426.73,294.10 L1434.00,294.10 L1441.27,294.10 L1448.55,294.10 L1455.82,294.10 L1463.09,294.10 L1470.37,294.10 L1477.64,294.10 L1484.91,294.10 L1492.19,294.10 L1499.46,294.10 L1506.73,294.10 L1514.01,294.10 L1521.28,294.10 L1528.55,294.10 L1535.83,294.10 L1537.03,294.10 L1538.23,294.10 L1539.43,294.10 L1540.63,294.10 L1541.00,285.50 L1541.21,277.64 L1541.43,269.79 L1541.64,261.93 L1541.86,254.07 L1542.07,246.21 L1542.29,238.36 L1542.50,230.50 L1550.37,205.99 L1557.65,185.18 L1564.92,170.12 L1572.19,158.09 L1579.47,147.97 L1586.74,139.19 L1594.01,131.40 L1601.29,124.38 L1608.56,118.00 L1615.83,112.14 L1623.11,106.72 L1630.38,101.69 L1637.65,97.00 L1644.93,92.60 L1652.20,88.48 L1659.47,84.59 L1666.75,80.93 L1674.02,77.46 L1681.29,74.18 L1688.57,71.06 L1695.84,68.10 L1703.11,65.28 L1710.39,62.58 L1717.66,60.01 L1724.93,57.54 L1732.21,55.17 L1739.48,52.88 L1746.75,50.68 L1754.03,48.55 L1761.30,46.49 L1768.57,44.48 L1775.85,42.52 L1783.12,40.60 L1790.39,38.72 L1797.67,36.86 L1804.94,35.03 L1812.21,33.21 L1819.49,31.39 L1826.76,29.58 L1834.03,27.76 L1980.00,7.77" fill="none" stroke="#8bbfdd" stroke-width="1.5" clip-path="url(#clipd)"/><g stroke="#8bbfdd"><use href="#ci" x="1106.70" y="294.10"/><use href="#ci" x="1252.17" y="294.10"/><use href="#ci" x="1397.63" y="294.10"/><use href="#ci" x="1404.91" y="294.10"/><use href="#ci" x="1412.18" y="294.10"/><use href="#ci" x="1419.45" y="294.10"/><use href="#ci" x="1426.73" y="294.10"/><use href="#ci" x="1434.00" y="294.10"/><use href="#ci" x="1441.27" y="294.10"/><use href="#ci" x="1448.55" y="294.10"/><use href="#ci" x="1455.82" y="294.10"/><use href="#ci" x="1463.09" y="294.10"/><use href="#ci" x="1470.37" y="294.10"/><use href="#ci" x="1477.64" y="294.10"/><use href="#ci" x="1484.91" y="294.10"/><use href="#ci" x="1492.19" y="294.10"/><use href="#ci" x="1499.46" y="294.10"/><use href="#ci" x="1506.73" y="294.10"/><use href="#ci" x="1514.01" y="294.10"/><use href="#ci" x="1521.28" y="294.10"/><use href="#ci" x="1528.55" y="294.10"/><use href="#ci" x="1535.83" y="294.10"/><use href="#ci" x="1537.03" y="294.10"/><use href="#ci" x="1538.23" y="294.10"/><use href="#ci" x="1539.43" y="294.10"/><use href="#ci" x="1540.63" y="294.10"/><use href="#ci" x="1541.00" y="285.50"/><use href="#ci" x="1541.21" y="277.64"/><use href="#ci" x="1541.43" y="269.79"/><use href="#ci" x="1541.64" y="261.93"/><use href="#ci" x="1541.86" y="254.07"/><use href="#ci" x="1542.07" y="246.21"/><use href="#ci" x="1542.29" y="238.36"/><use href="#ci" x="1542.50" y="230.50"/><use href="#ci" x="1550.37" y="205.99"/><use href="#ci" x="1557.65" y="185.18"/><use href="#ci" x="1564.92" y="170.12"/><use href="#ci" x="1572.19" y="158.09"/><use href="#ci" x="1579.47" y="147.97"/><use href="#ci" x="1586.74" y="139.19"/><use href="#ci" x="1594.01" y="131.40"/><use href="#ci" x="1601.29" y="124.38"/><use href="#ci" x="1608.56" y="118.00"/><use href="#ci" x="1615.83" y="112.14"/><use href="#ci" x="1623.11" y="106.72"/><use href="#ci" x="1630.38" y="101.69"/><use href="#ci" x="1637.65" y="97.00"/><use href="#ci" x="1644.93" y="92.60"/><use href="#ci" x="1652.20" y="88.48"/><use href="#ci" x="1659.47" y="84.59"/><use href="#ci" x="1666.75" y="80.93"/><use href="#ci" x="1674.02" y="77.46"/><use href="#ci" x="1681.29" y="74.18"/><use href="#ci" x="1688.57" y="71.06"/><use href="#ci" x="1695.84" y="68.10"/><use href="#ci" x="1703.11" y="65.28"/><use href="#ci" x="1710.39" y="62.58"/><use href="#ci" x="1717.66" y="60.01"/><use href="#ci" x="1724.93" y="57.54"/><use href="#ci" x="1732.21" y="55.17"/><use href="#ci" x="1739.48" y="52.88"/><use href="#ci" x="1746.75" y="50.68"/><use href="#ci" x="1754.03" y="48.55"/><use href="#ci" x="1761.30" y="46.49"/><use href="#ci" x="1768.57" y="44.48"/><use href="#ci" x="1775.85" y="42.52"/><use href="#ci" x="1783.12" y="40.60"/><use href="#ci" x="1790.39" y="38.72"/><use href="#ci" x="1797.67" y="36.86"/><use href="#ci" x="1804.94" y="35.03"/><use href="#ci" x="1812.21" y="33.21"/><use href="#ci" x="1819.49" y="31.39"/><use href="#ci" x="1826.76" y="29.58"/><use href="#ci" x="1834.03" y="27.76"/></g><g stroke="#8bbfdd"><use href="#st" x="1106.70" y="294.10"/><use href="#st" x="1252.17" y="294.10"/><use href="#st" x="1397.63" y="294.10"/><use href="#st" x="1404.91" y="294.10"/><use href="#st" x="1412.18" y="294.10"/><use href="#st" x="1419.45" y="294.10"/><use href="#st" x="1426.73" y="294.10"/><use href="#st" x="1434.00" y="294.10"/><use href="#st" x="1441.27" y="294.10"/><use href="#st" x="1448.55" y="294.10"/><use href="#st" x="1455.82" y="294.10"/><use href="#st" x="1463.09" y="294.10"/><use href="#st" x="1470.37" y="294.10"/><use href="#st" x="1477.64" y="294.10"/><use href="#st" x="1484.91" y="294.10"/><use href="#st" x="1492.19" y="294.10"/><use href="#st" x="1499.46" y="294.10"/><use href="#st" x="1506.73" y="294.10"/><use href="#st" x="1514.01" y="294.10"/><use href="#st" x="1521.28" y="294.10"/><use href="#st" x="1528.55" y="294.10"/><use href="#st" x="1535.83" y="294.10"/><use href="#st" x="1537.03" y="294.10"/><use href="#st" x="1538.23" y="294.10"/><use href="#st" x="1539.43" y="294.10"/><use href="#st" x="1540.63" y="294.10"/><use href="#st" x="1541.00" y="285.50"/><use href="#st" x="1541.21" y="277.64"/><use href="#st" x="1541.43" y="269.79"/><use href="#st" x="1541.64" y="261.93"/><use href="#st" x="1541.86" y="254.07"/><use href="#st" x="1542.07" y="246.21"/><use href="#st" x="1542.29" y="238.36"/><use href="#st" x="1542.50" y="230.50"/><use href="#st" x="1550.37" y="205.99"/><use href="#st" x="1557.65" y="185.18"/><use href="#st" x="1564.92" y="170.12"/><use href="#st" x="1572.19" y="158.09"/><use href="#st" x="1579.47" y="147.97"/><use href="#st" x="1586.74" y="139.19"/><use href="#st" x="1594.01" y="131.40"/><use href="#st" x="1601.29" y="124.38"/><use href="#st" x="1608.56" y="118.00"/><use href="#st" x="1615.83" y="112.14"/><use href="#st" x="1623.11" y="106.72"/><use href="#st" x="1630.38" y="101.69"/><use href="#st" x="1637.65" y="97.00"/><use href="#st" x="1644.93" y="92.60"/><use href="#st" x="1652.20" y="88.48"/><use href="#st" x="1659.47" y="84.59"/><use href="#st" x="1666.75" y="80.93"/><use href="#st" x="1674.02" y="77.46"/><use href="#st" x="1681.29" y="74.18"/><use href="#st" x="1688.57" y="71.06"/><use href="#st" x="1695.84" y="68.10"/><use href="#st" x="1703.11" y="65.28"/><use href="#st" x="1710.39" y="62.58"/><use href="#st" x="1717.66" y="60.01"/><use href="#st" x="1724.93" y="57.54"/><use href="#st" x="1732.21" y="55.17"/><use href="#st" x="1739.48" y="52.88"/><use href="#st" x="1746.75" y="50.68"/><use href="#st" x="1754.03" y="48.55"/><use href="#st" x="1761.30" y="46.49"/><use href="#st" x="1768.57" y="44.48"/><use href="#st" x="1775.85" y="42.52"/><use href="#st" x="1783.12" y="40.60"/><use href="#st" x="1790.39" y="38.72"/><use href="#st" x="1797.67" y="36.86"/><use href="#st" x="1804.94" y="35.03"/><use href="#st" x="1812.21" y="33.21"/><use href="#st" x="1819.49" y="31.39"/><use href="#st" x="1826.76" y="29.58"/><use href="#st" x="1834.03" y="27.76"/></g><path d="M1107.20,294.10 L1252.67,294.10 L1398.13,294.10 L1405.41,294.10 L1412.68,294.10 L1419.95,294.10 L1427.23,294.10 L1434.50,294.10 L1441.77,294.10 L1449.05,294.10 L1456.32,294.10 L1463.59,294.10 L1470.87,294.10 L1478.14,294.10 L1485.41,294.10 L1492.69,294.10 L1499.96,294.10 L1507.23,294.10 L1514.51,294.10 L1521.78,294.10 L1529.05,294.10 L1536.33,294.10 L1537.53,294.10 L1538.73,294.10 L1539.93,294.10 L1541.13,294.10 L1541.50,287.00 L1541.71,279.14 L1541.93,271.29 L1542.14,263.43 L1542.36,255.57 L1542.57,247.71 L1542.79,239.86 L1543.00,232.00 L1550.87,207.49 L1558.15,186.68 L1565.42,171.62 L1572.69,159.59 L1579.97,149.47 L1587.24,140.69 L1594.51,132.90 L1601.79,125.88 L1609.06,119.50 L1616.33,113.64 L1623.61,108.22 L1630.88,103.19 L1638.15,98.50 L1645.43,94.10 L1652.70,89.98 L1659.97,86.09 L1667.25,82.43 L1674.52,78.96 L1681.79,75.68 L1689.07,72.56 L1696.34,69.60 L1703.61,66.78 L1710.89,64.08 L1718.16,61.51 L1725.43,59.04 L1732.71,56.67 L1739.98,54.38 L1747.25,52.18 L1754.53,50.05 L1761.80,47.99 L1769.07,45.98 L1776.35,44.02 L1783.62,42.10 L1790.89,40.22 L1798.17,38.36 L1805.44,36.53 L1812.71,34.71 L1819.99,32.89 L1827.26,31.08 L1834.53,29.26 L1980.00,7.77" fill="none" stroke="#0b56a0" stroke-width="1.5" clip-path="url(#clipd)"/><g stroke="#0b56a0"><use href="#ci" x="1107.20" y="294.10"/><use href="#ci" x="1252.67" y="294.10"/><use href="#ci" x="1398.13" y="294.10"/><use href="#ci" x="1405.41" y="294.10"/><use href="#ci" x="1412.68" y="294.10"/><use href="#ci" x="1419.95" y="294.10"/><use href="#ci" x="1427.23" y="294.10"/><use href="#ci" x="1434.50" y="294.10"/><use href="#ci" x="1441.77" y="294.10"/><use href="#ci" x="1449.05" y="294.10"/><use href="#ci" x="1456.32" y="294.10"/><use href="#ci" x="1463.59" y="294.10"/><use href="#ci" x="1470.87" y="294.10"/><use href="#ci" x="1478.14" y="294.10"/><use href="#ci" x="1485.41" y="294.10"/><use href="#ci" x="1492.69" y="294.10"/><use href="#ci" x="1499.96" y="294.10"/><use href="#ci" x="1507.23" y="294.10"/><use href="#ci" x="1514.51" y="294.10"/><use href="#ci" x="1521.78" y="294.10"/><use href="#ci" x="1529.05" y="294.10"/><use href="#ci" x="1536.33" y="294.10"/><use href="#ci" x="1537.53" y="294.10"/><use href="#ci" x="1538.73" y="294.10"/><use href="#ci" x="1539.93" y="294.10"/><use href="#ci" x="1541.13" y="294.10"/><use href="#ci" x="1541.50" y="287.00"/><use href="#ci" x="1541.71" y="279.14"/><use href="#ci" x="1541.93" y="271.29"/><use href="#ci" x="1542.14" y="263.43"/><use href="#ci" x="1542.36" y="255.57"/><use href="#ci" x="1542.57" y="247.71"/><use href="#ci" x="1542.79" y="239.86"/><use href="#ci" x="1543.00" y="232.00"/><use href="#ci" x="1550.87" y="207.49"/><use href="#ci" x="1558.15" y="186.68"/><use href="#ci" x="1565.42" y="171.62"/><use href="#ci" x="1572.69" y="159.59"/><use href="#ci" x="1579.97" y="149.47"/><use href="#ci" x="1587.24" y="140.69"/><use href="#ci" x="1594.51" y="132.90"/><use href="#ci" x="1601.79" y="125.88"/><use href="#ci" x="1609.06" y="119.50"/><use href="#ci" x="1616.33" y="113.64"/><use href="#ci" x="1623.61" y="108.22"/><use href="#ci" x="1630.88" y="103.19"/><use href="#ci" x="1638.15" y="98.50"/><use href="#ci" x="1645.43" y="94.10"/><use href="#ci" x="1652.70" y="89.98"/><use href="#ci" x="1659.97" y="86.09"/><use href="#ci" x="1667.25" y="82.43"/><use href="#ci" x="1674.52" y="78.96"/><use href="#ci" x="1681.79" y="75.68"/><use href="#ci" x="1689.07" y="72.56"/><use href="#ci" x="1696.34" y="69.60"/><use href="#ci" x="1703.61" y="66.78"/><use href="#ci" x="1710.89" y="64.08"/><use href="#ci" x="1718.16" y="61.51"/><use href="#ci" x="1725.43" y="59.04"/><use href="#ci" x="1732.71" y="56.67"/><use href="#ci" x="1739.98" y="54.38"/><use href="#ci" x="1747.25" y="52.18"/><use href="#ci" x="1754.53" y="50.05"/><use href="#ci" x="1761.80" y="47.99"/><use href="#ci" x="1769.07" y="45.98"/><use href="#ci" x="1776.35" y="44.02"/><use href="#ci" x="1783.62" y="42.10"/><use href="#ci" x="1790.89" y="40.22"/><use href="#ci" x="1798.17" y="38.36"/><use href="#ci" x="1805.44" y="36.53"/><use href="#ci" x="1812.71" y="34.71"/><use href="#ci" x="1819.99" y="32.89"/><use href="#ci" x="1827.26" y="31.08"/><use href="#ci" x="1834.53" y="29.26"/></g><g stroke="#0b56a0"><use href="#st" x="1107.20" y="294.10"/><use href="#st" x="1252.67" y="294.10"/><use href="#st" x="1398.13" y="294.10"/><use href="#st" x="1405.41" y="294.10"/><use href="#st" x="1412.68" y="294.10"/><use href="#st" x="1419.95" y="294.10"/><use href="#st" x="1427.23" y="294.10"/><use href="#st" x="1434.50" y="294.10"/><use href="#st" x="1441.77" y="294.10"/><use href="#st" x="1449.05" y="294.10"/><use href="#st" x="1456.32" y="294.10"/><use href="#st" x="1463.59" y="294.10"/><use href="#st" x="1470.87" y="294.10"/><use href="#st" x="1478.14" y="294.10"/><use href="#st" x="1485.41" y="294.10"/><use href="#st" x="1492.69" y="294.10"/><use href="#st" x="1499.96" y="294.10"/><use href="#st" x="1507.23" y="294.10"/><use href="#st" x="1514.51" y="294.10"/><use href="#st" x="1521.78" y="294.10"/><use href="#st" x="1529.05" y="294.10"/><use href="#st" x="1536.33" y="294.10"/><use href="#st" x="1537.53" y="294.10"/><use href="#st" x="1538.73" y="294.10"/><use href="#st" x="1539.93" y="294.10"/><use href="#st" x="1541.13" y="294.10"/><use href="#st" x="1541.50" y="287.00"/><use href="#st" x="1541.71" y="279.14"/><use href="#st" x="1541.93" y="271.29"/><use href="#st" x="1542.14" y="263.43"/><use href="#st" x="1542.36" y="255.57"/><use href="#st" x="1542.57" y="247.71"/><use href="#st" x="1542.79" y="239.86"/><use href="#st" x="1543.00" y="232.00"/><use href="#st" x="1550.87" y="207.49"/><use href="#st" x="1558.15" y="186.68"/><use href="#st" x="1565.42" y="171.62"/><use href="#st" x="1572.69" y="159.59"/><use href="#st" x="1579.97" y="149.47"/><use href="#st" x="1587.24" y="140.69"/><use href="#st" x="1594.51" y="132.90"/><use href="#st" x="1601.79" y="125.88"/><use href="#st" x="1609.06" y="119.50"/><use href="#st" x="1616.33" y="113.64"/><use href="#st" x="1623.61" y="108.22"/><use href="#st" x="1630.88" y="103.19"/><use href="#st" x="1638.15" y="98.50"/><use href="#st" x="1645.43" y="94.10"/><use href="#st" x="1652.70" y="89.98"/><use href="#st" x="1659.97" y="86.09"/><use href="#st" x="1667.25" y="82.43"/><use href="#st" x="1674.52" y="78.96"/><use href="#st" x="1681.79" y="75.68"/><use href="#st" x="1689.07" y="72.56"/><use href="#st" x="1696.34" y="69.60"/><use href="#st" x="1703.61" y="66.78"/><use href="#st" x="1710.89" y="64.08"/><use href="#st" x="1718.16" y="61.51"/><use href="#st" x="1725.43" y="59.04"/><use href="#st" x="1732.71" y="56.67"/><use href="#st" x="1739.98" y="54.38"/><use href="#st" x="1747.25" y="52.18"/><use href="#st" x="1754.53" y="50.05"/><use href="#st" x="1761.80" y="47.99"/><use href="#st" x="1769.07" y="45.98"/><use href="#st" x="1776.35" y="44.02"/><use href="#st" x="1783.62" y="42.10"/><use href="#st" x="1790.89" y="40.22"/><use href="#st" x="1798.17" y="38.36"/><use href="#st" x="1805.44" y="36.53"/><use href="#st" x="1812.71" y="34.71"/><use href="#st" x="1819.99" y="32.89"/><use href="#st" x="1827.26" y="31.08"/><use href="#st" x="1834.53" y="29.26"/></g><g stroke="#d9e7f5"><use href="#ci" x="188.52" y="658.90"/><use href="#ci" x="195.59" y="658.90"/><use href="#ci" x="202.67" y="658.90"/><use href="#ci" x="229.63" y="658.90"/><use href="#ci" x="231.90" y="658.90"/><use href="#ci" x="234.70" y="658.90"/><use href="#ci" x="237.01" y="658.90"/><use href="#ci" x="238.16" y="658.90"/><use href="#ci" x="240.74" y="658.90"/><use href="#ci" x="242.99" y="658.90"/><use href="#ci" x="246.15" y="658.90"/><use href="#ci" x="248.06" y="658.90"/><use href="#ci" x="251.36" y="658.90"/><use href="#ci" x="254.30" y="658.90"/><use href="#ci" x="256.37" y="658.90"/><use href="#ci" x="259.69" y="658.90"/><use href="#ci" x="262.27" y="658.90"/><use href="#ci" x="264.09" y="658.90"/><use href="#ci" x="267.70" y="658.90"/><use href="#ci" x="269.99" y="658.90"/><use href="#ci" x="273.03" y="658.90"/><use href="#ci" x="275.62" y="658.90"/><use href="#ci" x="281.27" y="658.90"/><use href="#ci" x="282.13" y="658.63"/><use href="#ci" x="282.93" y="657.81"/><use href="#ci" x="285.12" y="656.46"/><use href="#ci" x="287.00" y="654.55"/><use href="#ci" x="287.41" y="652.11"/><use href="#ci" x="288.62" y="649.12"/><use href="#ci" x="290.35" y="645.59"/><use href="#ci" x="292.88" y="641.52"/><use href="#ci" x="294.36" y="636.90"/><use href="#ci" x="300.00" y="611.98"/><use href="#ci" x="304.30" y="600.48"/><use href="#ci" x="308.01" y="590.62"/><use href="#ci" x="311.38" y="580.96"/><use href="#ci" x="314.52" y="570.56"/><use href="#ci" x="317.49" y="560.86"/><use href="#ci" x="320.32" y="551.82"/><use href="#ci" x="323.04" y="543.26"/><use href="#ci" x="325.66" y="535.44"/><use href="#ci" x="328.21" y="527.86"/><use href="#ci" x="330.69" y="521.77"/><use href="#ci" x="333.10" y="515.99"/><use href="#ci" x="335.46" y="510.34"/><use href="#ci" x="337.76" y="505.57"/><use href="#ci" x="340.02" y="501.17"/><use href="#ci" x="342.24" y="496.85"/><use href="#ci" x="344.42" y="492.61"/><use href="#ci" x="346.57" y="489.01"/><use href="#ci" x="348.68" y="485.79"/><use href="#ci" x="350.76" y="482.62"/><use href="#ci" x="352.81" y="479.49"/><use href="#ci" x="354.84" y="476.40"/><use href="#ci" x="356.84" y="473.69"/><use href="#ci" x="358.81" y="471.33"/><use href="#ci" x="360.77" y="469.00"/><use href="#ci" x="362.70" y="466.69"/><use href="#ci" x="364.61" y="464.40"/><use href="#ci" x="366.50" y="462.14"/><use href="#ci" x="368.37" y="460.06"/><use href="#ci" x="370.22" y="458.43"/><use href="#ci" x="372.06" y="456.81"/><use href="#ci" x="373.88" y="455.22"/><use href="#ci" x="375.68" y="453.63"/><use href="#ci" x="377.47" y="452.06"/><use href="#ci" x="379.24" y="450.50"/><use href="#ci" x="381.00" y="448.96"/><use href="#ci" x="382.75" y="447.42"/></g><g stroke="#d9e7f5"><use href="#st" x="187.04" y="658.90"/><use href="#st" x="195.45" y="658.90"/><use href="#st" x="203.87" y="658.90"/><use href="#st" x="229.32" y="658.90"/><use href="#st" x="230.53" y="658.90"/><use href="#st" x="232.32" y="658.90"/><use href="#st" x="235.59" y="658.90"/><use href="#st" x="237.88" y="658.90"/><use href="#st" x="240.08" y="658.90"/><use href="#st" x="242.42" y="658.90"/><use href="#st" x="245.32" y="658.90"/><use href="#st" x="248.06" y="658.90"/><use href="#st" x="250.42" y="658.90"/><use href="#st" x="253.16" y="658.90"/><use href="#st" x="256.16" y="658.90"/><use href="#st" x="259.56" y="658.90"/><use href="#st" x="261.90" y="658.90"/><use href="#st" x="264.22" y="658.90"/><use href="#st" x="267.03" y="658.90"/><use href="#st" x="270.16" y="658.90"/><use href="#st" x="272.62" y="658.90"/><use href="#st" x="275.49" y="658.90"/><use href="#st" x="280.89" y="658.90"/><use href="#st" x="281.39" y="658.63"/><use href="#st" x="283.61" y="657.81"/><use href="#st" x="284.74" y="656.46"/><use href="#st" x="286.85" y="654.55"/><use href="#st" x="288.32" y="652.11"/><use href="#st" x="289.60" y="649.12"/><use href="#st" x="290.98" y="645.59"/><use href="#st" x="291.71" y="641.52"/><use href="#st" x="293.72" y="636.90"/><use href="#st" x="300.15" y="611.59"/><use href="#st" x="304.35" y="600.36"/><use href="#st" x="307.97" y="590.73"/><use href="#st" x="311.26" y="581.35"/><use href="#st" x="314.33" y="571.20"/><use href="#st" x="317.22" y="561.70"/><use href="#st" x="319.99" y="552.86"/><use href="#st" x="322.65" y="544.43"/><use href="#st" x="325.21" y="536.79"/><use href="#st" x="327.70" y="529.39"/><use href="#st" x="330.12" y="523.13"/><use href="#st" x="332.47" y="517.49"/><use href="#st" x="334.77" y="511.97"/><use href="#st" x="337.03" y="507.00"/><use href="#st" x="339.24" y="502.70"/><use href="#st" x="341.40" y="498.48"/><use href="#st" x="343.53" y="494.34"/><use href="#st" x="345.63" y="490.45"/><use href="#st" x="347.69" y="487.30"/><use href="#st" x="349.72" y="484.20"/><use href="#st" x="351.73" y="481.14"/><use href="#st" x="353.71" y="478.13"/><use href="#st" x="355.66" y="475.15"/><use href="#st" x="357.59" y="472.80"/><use href="#st" x="359.49" y="470.52"/><use href="#st" x="361.38" y="468.26"/><use href="#st" x="363.25" y="466.03"/><use href="#st" x="365.09" y="463.82"/><use href="#st" x="366.92" y="461.64"/><use href="#st" x="368.73" y="459.74"/><use href="#st" x="370.52" y="458.16"/><use href="#st" x="372.30" y="456.60"/><use href="#st" x="374.06" y="455.05"/><use href="#st" x="375.81" y="453.52"/><use href="#st" x="377.54" y="452.00"/><use href="#st" x="379.26" y="450.49"/><use href="#st" x="380.96" y="448.99"/></g><g stroke="#8bbfdd"><use href="#ci" x="185.10" y="658.90"/><use href="#ci" x="194.82" y="658.90"/><use href="#ci" x="204.54" y="658.90"/><use href="#ci" x="227.29" y="658.90"/><use href="#ci" x="229.49" y="658.90"/><use href="#ci" x="231.18" y="658.90"/><use href="#ci" x="233.90" y="658.90"/><use href="#ci" x="237.57" y="658.90"/><use href="#ci" x="238.96" y="658.90"/><use href="#ci" x="242.33" y="658.90"/><use href="#ci" x="244.93" y="658.90"/><use href="#ci" x="247.76" y="658.90"/><use href="#ci" x="250.10" y="658.90"/><use href="#ci" x="253.07" y="658.90"/><use href="#ci" x="255.03" y="658.90"/><use href="#ci" x="257.87" y="658.90"/><use href="#ci" x="260.92" y="658.90"/><use href="#ci" x="263.72" y="658.90"/><use href="#ci" x="266.53" y="658.90"/><use href="#ci" x="269.49" y="658.90"/><use href="#ci" x="273.10" y="658.90"/><use href="#ci" x="275.47" y="658.90"/><use href="#ci" x="283.89" y="658.90"/><use href="#ci" x="284.95" y="658.70"/><use href="#ci" x="286.27" y="658.11"/><use href="#ci" x="288.24" y="657.12"/><use href="#ci" x="288.94" y="655.74"/><use href="#ci" x="291.94" y="653.96"/><use href="#ci" x="293.38" y="651.79"/><use href="#ci" x="294.76" y="649.22"/><use href="#ci" x="295.87" y="646.26"/><use href="#ci" x="298.24" y="642.90"/><use href="#ci" x="295.18" y="643.77"/><use href="#ci" x="300.73" y="635.20"/><use href="#ci" x="306.08" y="626.50"/><use href="#ci" x="311.32" y="612.73"/><use href="#ci" x="316.48" y="601.99"/><use href="#ci" x="321.59" y="588.29"/><use href="#ci" x="326.65" y="575.17"/><use href="#ci" x="331.67" y="562.97"/><use href="#ci" x="336.66" y="552.54"/><use href="#ci" x="341.61" y="543.82"/><use href="#ci" x="346.55" y="534.81"/><use href="#ci" x="351.46" y="526.11"/><use href="#ci" x="356.34" y="518.19"/><use href="#ci" x="361.21" y="510.69"/><use href="#ci" x="366.06" y="503.68"/><use href="#ci" x="370.89" y="497.59"/><use href="#ci" x="375.71" y="492.80"/><use href="#ci" x="380.52" y="488.59"/><use href="#ci" x="385.31" y="484.37"/><use href="#ci" x="390.08" y="480.01"/><use href="#ci" x="394.85" y="475.66"/><use href="#ci" x="399.60" y="470.83"/><use href="#ci" x="404.34" y="465.71"/><use href="#ci" x="409.07" y="460.76"/><use href="#ci" x="413.79" y="456.04"/><use href="#ci" x="418.50" y="451.38"/><use href="#ci" x="423.21" y="446.97"/><use href="#ci" x="427.90" y="442.55"/><use href="#ci" x="432.58" y="438.80"/><use href="#ci" x="437.26" y="435.08"/><use href="#ci" x="441.93" y="431.77"/><use href="#ci" x="446.59" y="428.65"/><use href="#ci" x="451.24" y="425.68"/><use href="#ci" x="455.89" y="422.92"/><use href="#ci" x="460.53" y="420.21"/><use href="#ci" x="465.16" y="417.72"/><use href="#ci" x="469.79" y="415.24"/><use href="#ci" x="474.41" y="413.04"/><use href="#ci" x="479.02" y="410.87"/><use href="#ci" x="483.63" y="408.62"/></g><g stroke="#8bbfdd"><use href="#st" x="183.91" y="658.90"/><use href="#st" x="194.77" y="658.90"/><use href="#st" x="205.63" y="658.90"/><use href="#st" x="227.03" y="658.90"/><use href="#st" x="228.64" y="658.90"/><use href="#st" x="230.57" y="658.90"/><use href="#st" x="233.36" y="658.90"/><use href="#st" x="235.36" y="658.90"/><use href="#st" x="237.99" y="658.90"/><use href="#st" x="241.54" y="658.90"/><use href="#st" x="244.37" y="658.90"/><use href="#st" x="247.45" y="658.90"/><use href="#st" x="250.07" y="658.90"/><use href="#st" x="252.42" y="658.90"/><use href="#st" x="254.56" y="658.90"/><use href="#st" x="258.10" y="658.90"/><use href="#st" x="261.72" y="658.90"/><use href="#st" x="264.45" y="658.90"/><use href="#st" x="266.93" y="658.90"/><use href="#st" x="269.87" y="658.90"/><use href="#st" x="272.49" y="658.90"/><use href="#st" x="275.45" y="658.90"/><use href="#st" x="282.06" y="658.90"/><use href="#st" x="285.39" y="658.70"/><use href="#st" x="286.48" y="658.11"/><use href="#st" x="287.07" y="657.12"/><use href="#st" x="289.25" y="655.74"/><use href="#st" x="290.11" y="653.96"/><use href="#st" x="292.06" y="651.79"/><use href="#st" x="294.77" y="649.22"/><use href="#st" x="296.23" y="646.26"/><use href="#st" x="297.49" y="642.90"/><use href="#st" x="295.13" y="643.85"/><use href="#st" x="300.59" y="635.41"/><use href="#st" x="305.85" y="627.12"/><use href="#st" x="311.01" y="613.37"/><use href="#st" x="316.09" y="602.85"/><use href="#st" x="321.11" y="589.54"/><use href="#st" x="326.09" y="576.54"/><use href="#st" x="331.03" y="564.47"/><use href="#st" x="335.94" y="553.79"/><use href="#st" x="340.82" y="545.27"/><use href="#st" x="345.67" y="536.41"/><use href="#st" x="350.50" y="527.80"/><use href="#st" x="355.31" y="519.81"/><use href="#st" x="360.10" y="512.37"/><use href="#st" x="364.87" y="505.18"/><use href="#st" x="369.62" y="499.19"/><use href="#st" x="374.37" y="493.98"/><use href="#st" x="379.09" y="489.84"/><use href="#st" x="383.80" y="485.71"/><use href="#st" x="388.50" y="481.45"/><use href="#st" x="393.19" y="477.17"/><use href="#st" x="397.87" y="472.71"/><use href="#st" x="402.53" y="467.66"/><use href="#st" x="407.19" y="462.65"/><use href="#st" x="411.83" y="458.00"/><use href="#st" x="416.47" y="453.37"/><use href="#st" x="421.09" y="448.95"/><use href="#st" x="425.71" y="444.61"/><use href="#st" x="430.32" y="440.60"/><use href="#st" x="434.92" y="436.94"/><use href="#st" x="439.51" y="433.39"/><use href="#st" x="444.10" y="430.32"/><use href="#st" x="448.68" y="427.25"/><use href="#st" x="453.25" y="424.49"/><use href="#st" x="457.81" y="421.78"/><use href="#st" x="462.37" y="419.22"/><use href="#st" x="466.92" y="416.78"/><use href="#st" x="471.47" y="414.42"/><use href="#st" x="476.01" y="412.28"/><use href="#st" x="480.54" y="410.15"/></g><g stroke="#0b56a0"><use href="#ci" x="181.84" y="658.90"/><use href="#ci" x="185.38" y="658.90"/><use href="#ci" x="188.92" y="658.90"/><use href="#ci" x="192.46" y="658.90"/><use href="#ci" x="196.00" y="658.90"/><use href="#ci" x="199.54" y="658.90"/><use href="#ci" x="203.08" y="658.90"/><use href="#ci" x="206.62" y="658.90"/><use href="#ci" x="225.90" y="658.90"/><use href="#ci" x="227.18" y="658.90"/><use href="#ci" x="229.01" y="658.90"/><use href="#ci" x="231.53" y="658.90"/><use href="#ci" x="234.21" y="658.90"/><use href="#ci" x="238.31" y="658.90"/><use href="#ci" x="240.40" y="658.90"/><use href="#ci" x="243.68" y="658.90"/><use href="#ci" x="245.46" y="658.90"/><use href="#ci" x="248.48" y="658.90"/><use href="#ci" x="252.08" y="658.90"/><use href="#ci" x="255.35" y="658.90"/><use href="#ci" x="257.43" y="658.90"/><use href="#ci" x="259.98" y="658.90"/><use href="#ci" x="264.28" y="658.90"/><use href="#ci" x="266.40" y="658.90"/><use href="#ci" x="270.18" y="658.90"/><use href="#ci" x="272.32" y="658.90"/><use href="#ci" x="276.28" y="658.90"/><use href="#ci" x="283.66" y="658.90"/><use href="#ci" x="285.04" y="658.73"/><use href="#ci" x="285.89" y="658.21"/><use href="#ci" x="288.28" y="657.34"/><use href="#ci" x="288.68" y="656.13"/><use href="#ci" x="290.66" y="654.58"/><use href="#ci" x="292.50" y="652.68"/><use href="#ci" x="295.08" y="650.43"/><use href="#ci" x="295.19" y="647.84"/><use href="#ci" x="298.32" y="644.90"/><use href="#ci" x="298.31" y="639.46"/><use href="#ci" x="303.26" y="631.74"/><use href="#ci" x="308.21" y="621.11"/><use href="#ci" x="313.16" y="609.41"/><use href="#ci" x="318.11" y="598.11"/><use href="#ci" x="323.06" y="584.93"/><use href="#ci" x="328.00" y="572.32"/><use href="#ci" x="332.95" y="560.45"/><use href="#ci" x="337.90" y="550.87"/><use href="#ci" x="342.85" y="542.06"/><use href="#ci" x="347.80" y="533.09"/><use href="#ci" x="352.75" y="524.33"/><use href="#ci" x="357.69" y="516.57"/><use href="#ci" x="362.64" y="509.03"/><use href="#ci" x="367.59" y="502.25"/><use href="#ci" x="372.54" y="496.08"/><use href="#ci" x="377.49" y="491.74"/><use href="#ci" x="382.44" y="487.41"/><use href="#ci" x="387.38" y="482.97"/><use href="#ci" x="392.33" y="478.45"/><use href="#ci" x="397.28" y="473.84"/><use href="#ci" x="402.23" y="468.49"/><use href="#ci" x="407.18" y="463.16"/><use href="#ci" x="412.13" y="458.21"/><use href="#ci" x="417.07" y="453.26"/><use href="#ci" x="422.02" y="448.58"/><use href="#ci" x="426.97" y="443.93"/><use href="#ci" x="431.92" y="439.83"/><use href="#ci" x="436.87" y="435.89"/><use href="#ci" x="441.82" y="432.35"/><use href="#ci" x="446.76" y="429.03"/><use href="#ci" x="451.71" y="425.91"/><use href="#ci" x="456.66" y="422.97"/><use href="#ci" x="461.61" y="420.13"/><use href="#ci" x="466.56" y="417.47"/><use href="#ci" x="471.51" y="414.90"/><use href="#ci" x="476.45" y="412.57"/><use href="#ci" x="481.40" y="410.23"/><use href="#ci" x="486.35" y="407.77"/><use href="#ci" x="491.30" y="406.30"/></g><g stroke="#0b56a0"><use href="#st" x="180.76" y="658.90"/><use href="#st" x="184.65" y="658.90"/><use href="#st" x="188.53" y="658.90"/><use href="#st" x="192.41" y="658.90"/><use href="#st" x="196.29" y="658.90"/><use href="#st" x="200.17" y="658.90"/><use href="#st" x="204.05" y="658.90"/><use href="#st" x="207.94" y="658.90"/><use href="#st" x="223.75" y="658.90"/><use href="#st" x="225.66" y="658.90"/><use href="#st" x="228.19" y="658.90"/><use href="#st" x="231.73" y="658.90"/><use href="#st" x="234.65" y="658.90"/><use href="#st" x="236.99" y="658.90"/><use href="#st" x="239.47" y="658.90"/><use href="#st" x="242.02" y="658.90"/><use href="#st" x="245.81" y="658.90"/><use href="#st" x="248.82" y="658.90"/><use href="#st" x="250.55" y="658.90"/><use href="#st" x="253.76" y="658.90"/><use href="#st" x="257.78" y="658.90"/><use href="#st" x="260.88" y="658.90"/><use href="#st" x="263.11" y="658.90"/><use href="#st" x="266.16" y="658.90"/><use href="#st" x="269.54" y="658.90"/><use href="#st" x="272.86" y="658.90"/><use href="#st" x="275.32" y="658.90"/><use href="#st" x="283.65" y="658.90"/><use href="#st" x="284.64" y="658.73"/><use href="#st" x="286.76" y="658.21"/><use href="#st" x="287.25" y="657.34"/><use href="#st" x="290.40" y="656.13"/><use href="#st" x="291.57" y="654.58"/><use href="#st" x="292.34" y="652.68"/><use href="#st" x="295.23" y="650.43"/><use href="#st" x="296.33" y="647.84"/><use href="#st" x="298.24" y="644.90"/><use href="#st" x="297.57" y="641.20"/><use href="#st" x="302.52" y="633.50"/><use href="#st" x="307.47" y="623.76"/><use href="#st" x="312.42" y="611.55"/><use href="#st" x="317.36" y="600.71"/><use href="#st" x="322.31" y="587.48"/><use href="#st" x="327.26" y="574.76"/><use href="#st" x="332.21" y="562.80"/><use href="#st" x="337.16" y="552.77"/><use href="#st" x="342.11" y="544.02"/><use href="#st" x="347.05" y="535.00"/><use href="#st" x="352.00" y="526.24"/><use href="#st" x="356.95" y="518.33"/><use href="#st" x="361.90" y="510.75"/><use href="#st" x="366.85" y="503.79"/><use href="#st" x="371.80" y="497.56"/><use href="#st" x="376.74" y="492.99"/><use href="#st" x="381.69" y="488.66"/><use href="#st" x="386.64" y="484.25"/><use href="#st" x="391.59" y="479.73"/><use href="#st" x="396.54" y="475.21"/><use href="#st" x="401.49" y="469.89"/><use href="#st" x="406.44" y="464.54"/><use href="#st" x="411.38" y="459.55"/><use href="#st" x="416.33" y="454.60"/><use href="#st" x="421.28" y="449.87"/><use href="#st" x="426.23" y="445.23"/><use href="#st" x="431.18" y="441.02"/><use href="#st" x="436.13" y="437.08"/><use href="#st" x="441.07" y="433.44"/><use href="#st" x="446.02" y="430.13"/><use href="#st" x="450.97" y="426.95"/><use href="#st" x="455.92" y="424.01"/><use href="#st" x="460.87" y="421.13"/><use href="#st" x="465.82" y="418.47"/><use href="#st" x="470.76" y="415.85"/><use href="#st" x="475.71" y="413.52"/><use href="#st" x="480.66" y="411.20"/><use href="#st" x="485.61" y="408.74"/><use href="#st" x="490.56" y="406.90"/></g><g stroke="#d9e7f5"><use href="#ci" x="1180.49" y="658.90"/><use href="#ci" x="1187.81" y="658.90"/><use href="#ci" x="1195.14" y="658.90"/><use href="#ci" x="1221.80" y="658.90"/><use href="#ci" x="1224.85" y="658.90"/><use href="#ci" x="1226.35" y="658.90"/><use href="#ci" x="1228.85" y="658.90"/><use href="#ci" x="1231.48" y="658.90"/><use href="#ci" x="1233.54" y="658.90"/><use href="#ci" x="1235.68" y="658.90"/><use href="#ci" x="1238.04" y="658.90"/><use href="#ci" x="1240.45" y="658.90"/><use href="#ci" x="1244.11" y="658.90"/><use href="#ci" x="1246.27" y="658.90"/><use href="#ci" x="1248.48" y="658.90"/><use href="#ci" x="1252.32" y="658.90"/><use href="#ci" x="1254.06" y="658.90"/><use href="#ci" x="1257.02" y="658.90"/><use href="#ci" x="1259.58" y="658.90"/><use href="#ci" x="1262.88" y="658.90"/><use href="#ci" x="1265.59" y="658.90"/><use href="#ci" x="1268.42" y="658.90"/><use href="#ci" x="1274.76" y="658.90"/><use href="#ci" x="1277.92" y="657.40"/><use href="#ci" x="1280.98" y="655.90"/><use href="#ci" x="1284.26" y="654.40"/><use href="#ci" x="1273.79" y="640.00"/><use href="#ci" x="1274.55" y="630.00"/><use href="#ci" x="1276.86" y="620.00"/><use href="#ci" x="1277.56" y="610.00"/><use href="#ci" x="1276.73" y="600.00"/><use href="#ci" x="1277.12" y="590.00"/><use href="#ci" x="1278.19" y="580.00"/><use href="#ci" x="1279.90" y="570.00"/><use href="#ci" x="1290.09" y="579.41"/><use href="#ci" x="1299.06" y="546.27"/><use href="#ci" x="1306.50" y="532.95"/><use href="#ci" x="1313.29" y="517.83"/><use href="#ci" x="1319.66" y="507.66"/><use href="#ci" x="1325.74" y="499.86"/><use href="#ci" x="1331.59" y="493.44"/><use href="#ci" x="1337.25" y="488.53"/><use href="#ci" x="1342.76" y="483.75"/><use href="#ci" x="1348.14" y="479.36"/><use href="#ci" x="1353.40" y="475.06"/><use href="#ci" x="1358.56" y="470.77"/><use href="#ci" x="1363.63" y="466.51"/><use href="#ci" x="1368.61" y="462.25"/><use href="#ci" x="1373.52" y="458.13"/><use href="#ci" x="1378.37" y="454.01"/><use href="#ci" x="1383.15" y="450.11"/><use href="#ci" x="1387.87" y="446.30"/><use href="#ci" x="1392.54" y="442.86"/><use href="#ci" x="1397.15" y="440.25"/><use href="#ci" x="1401.72" y="437.66"/><use href="#ci" x="1406.24" y="435.29"/><use href="#ci" x="1410.72" y="433.03"/><use href="#ci" x="1415.16" y="430.80"/><use href="#ci" x="1419.57" y="428.61"/><use href="#ci" x="1423.93" y="426.43"/><use href="#ci" x="1428.27" y="424.31"/><use href="#ci" x="1432.57" y="422.31"/><use href="#ci" x="1436.83" y="420.33"/><use href="#ci" x="1441.07" y="418.50"/><use href="#ci" x="1445.28" y="416.81"/><use href="#ci" x="1449.46" y="415.13"/><use href="#ci" x="1453.62" y="413.56"/><use href="#ci" x="1457.74" y="412.05"/><use href="#ci" x="1461.85" y="410.54"/><use href="#ci" x="1465.93" y="409.27"/></g><g stroke="#d9e7f5"><use href="#st" x="1179.44" y="658.90"/><use href="#st" x="1187.37" y="658.90"/><use href="#st" x="1195.29" y="658.90"/><use href="#st" x="1221.19" y="658.90"/><use href="#st" x="1222.23" y="658.90"/><use href="#st" x="1225.30" y="658.90"/><use href="#st" x="1227.86" y="658.90"/><use href="#st" x="1230.87" y="658.90"/><use href="#st" x="1232.21" y="658.90"/><use href="#st" x="1235.65" y="658.90"/><use href="#st" x="1238.36" y="658.90"/><use href="#st" x="1241.08" y="658.90"/><use href="#st" x="1242.29" y="658.90"/><use href="#st" x="1245.74" y="658.90"/><use href="#st" x="1249.29" y="658.90"/><use href="#st" x="1251.12" y="658.90"/><use href="#st" x="1254.56" y="658.90"/><use href="#st" x="1256.94" y="658.90"/><use href="#st" x="1260.12" y="658.90"/><use href="#st" x="1262.50" y="658.90"/><use href="#st" x="1264.63" y="658.90"/><use href="#st" x="1267.60" y="658.90"/><use href="#st" x="1274.44" y="658.90"/><use href="#st" x="1277.85" y="657.40"/><use href="#st" x="1282.47" y="655.90"/><use href="#st" x="1284.90" y="654.40"/><use href="#st" x="1275.13" y="640.00"/><use href="#st" x="1275.35" y="630.00"/><use href="#st" x="1276.20" y="620.00"/><use href="#st" x="1277.27" y="610.00"/><use href="#st" x="1278.21" y="600.00"/><use href="#st" x="1278.90" y="590.00"/><use href="#st" x="1279.44" y="580.00"/><use href="#st" x="1278.69" y="570.00"/><use href="#st" x="1294.90" y="560.30"/><use href="#st" x="1302.89" y="540.30"/><use href="#st" x="1309.96" y="523.87"/><use href="#st" x="1316.52" y="512.31"/><use href="#st" x="1322.73" y="503.11"/><use href="#st" x="1328.69" y="496.64"/><use href="#st" x="1334.44" y="490.91"/><use href="#st" x="1340.02" y="486.14"/><use href="#st" x="1345.46" y="481.50"/><use href="#st" x="1350.78" y="477.22"/><use href="#st" x="1355.99" y="472.89"/><use href="#st" x="1361.10" y="468.64"/><use href="#st" x="1366.13" y="464.36"/><use href="#st" x="1371.08" y="460.19"/><use href="#st" x="1375.95" y="456.07"/><use href="#st" x="1380.76" y="452.02"/><use href="#st" x="1385.51" y="448.20"/><use href="#st" x="1390.21" y="444.41"/><use href="#st" x="1394.85" y="441.55"/><use href="#st" x="1399.44" y="438.95"/><use href="#st" x="1403.99" y="436.42"/><use href="#st" x="1408.49" y="434.16"/><use href="#st" x="1412.95" y="431.91"/><use href="#st" x="1417.37" y="429.70"/><use href="#st" x="1421.76" y="427.51"/><use href="#st" x="1426.10" y="425.35"/><use href="#st" x="1430.42" y="423.31"/><use href="#st" x="1434.70" y="421.32"/><use href="#st" x="1438.96" y="419.34"/><use href="#st" x="1443.18" y="417.65"/><use href="#st" x="1447.37" y="415.97"/><use href="#st" x="1451.54" y="414.32"/><use href="#st" x="1455.68" y="412.80"/><use href="#st" x="1459.80" y="411.29"/><use href="#st" x="1463.89" y="409.88"/><use href="#st" x="1467.96" y="408.66"/><use href="#st" x="1454.50" y="426.10"/></g><g stroke="#8bbfdd"><use href="#ci" x="1177.43" y="658.90"/><use href="#ci" x="1186.86" y="658.90"/><use href="#ci" x="1196.30" y="658.90"/><use href="#ci" x="1219.94" y="658.90"/><use href="#ci" x="1222.35" y="658.90"/><use href="#ci" x="1223.46" y="658.90"/><use href="#ci" x="1226.11" y="658.90"/><use href="#ci" x="1228.90" y="658.90"/><use href="#ci" x="1231.28" y="658.90"/><use href="#ci" x="1234.79" y="658.90"/><use href="#ci" x="1236.75" y="658.90"/><use href="#ci" x="1239.92" y="658.90"/><use href="#ci" x="1242.43" y="658.90"/><use href="#ci" x="1245.35" y="658.90"/><use href="#ci" x="1248.72" y="658.90"/><use href="#ci" x="1251.56" y="658.90"/><use href="#ci" x="1253.08" y="658.90"/><use href="#ci" x="1257.12" y="658.90"/><use href="#ci" x="1259.22" y="658.90"/><use href="#ci" x="1261.74" y="658.90"/><use href="#ci" x="1265.13" y="658.90"/><use href="#ci" x="1268.28" y="658.90"/><use href="#ci" x="1276.21" y="658.90"/><use href="#ci" x="1278.10" y="657.40"/><use href="#ci" x="1280.48" y="655.90"/><use href="#ci" x="1285.37" y="654.40"/><use href="#ci" x="1281.83" y="648.00"/><use href="#ci" x="1283.16" y="639.25"/><use href="#ci" x="1284.67" y="630.50"/><use href="#ci" x="1284.19" y="621.75"/><use href="#ci" x="1284.61" y="613.00"/><use href="#ci" x="1286.37" y="604.25"/><use href="#ci" x="1284.81" y="595.50"/><use href="#ci" x="1287.31" y="586.75"/><use href="#ci" x="1287.73" y="578.00"/><use href="#ci" x="1287.54" y="603.79"/><use href="#ci" x="1293.21" y="560.55"/><use href="#ci" x="1298.68" y="544.47"/><use href="#ci" x="1304.03" y="535.60"/><use href="#ci" x="1309.30" y="521.17"/><use href="#ci" x="1314.52" y="511.04"/><use href="#ci" x="1319.69" y="502.80"/><use href="#ci" x="1324.82" y="495.93"/><use href="#ci" x="1329.91" y="489.93"/><use href="#ci" x="1334.98" y="485.06"/><use href="#ci" x="1340.02" y="480.54"/><use href="#ci" x="1345.03" y="476.25"/><use href="#ci" x="1350.02" y="472.28"/><use href="#ci" x="1355.00" y="468.33"/><use href="#ci" x="1359.95" y="464.51"/><use href="#ci" x="1364.89" y="460.70"/><use href="#ci" x="1369.81" y="457.03"/><use href="#ci" x="1374.72" y="453.44"/><use href="#ci" x="1379.61" y="449.92"/><use href="#ci" x="1384.49" y="446.66"/><use href="#ci" x="1389.35" y="443.40"/><use href="#ci" x="1394.21" y="440.54"/><use href="#ci" x="1399.05" y="437.80"/><use href="#ci" x="1403.89" y="435.17"/><use href="#ci" x="1408.71" y="432.74"/><use href="#ci" x="1413.52" y="430.32"/><use href="#ci" x="1418.32" y="427.93"/><use href="#ci" x="1423.12" y="425.54"/><use href="#ci" x="1427.90" y="423.21"/><use href="#ci" x="1432.68" y="420.99"/><use href="#ci" x="1437.45" y="418.78"/><use href="#ci" x="1442.21" y="416.84"/><use href="#ci" x="1446.97" y="414.93"/><use href="#ci" x="1451.71" y="413.10"/><use href="#ci" x="1456.45" y="411.36"/><use href="#ci" x="1461.18" y="409.62"/><use href="#ci" x="1465.91" y="408.18"/><use href="#ci" x="1470.63" y="406.76"/><use href="#ci" x="1475.34" y="405.29"/><use href="#ci" x="1480.05" y="403.74"/></g><g stroke="#8bbfdd"><use href="#st" x="1176.45" y="658.90"/><use href="#st" x="1187.26" y="658.90"/><use href="#st" x="1198.07" y="658.90"/><use href="#st" x="1217.95" y="658.90"/><use href="#st" x="1220.23" y="658.90"/><use href="#st" x="1223.01" y="658.90"/><use href="#st" x="1225.90" y="658.90"/><use href="#st" x="1227.88" y="658.90"/><use href="#st" x="1230.56" y="658.90"/><use href="#st" x="1234.15" y="658.90"/><use href="#st" x="1236.94" y="658.90"/><use href="#st" x="1238.84" y="658.90"/><use href="#st" x="1242.44" y="658.90"/><use href="#st" x="1244.38" y="658.90"/><use href="#st" x="1246.85" y="658.90"/><use href="#st" x="1250.46" y="658.90"/><use href="#st" x="1253.60" y="658.90"/><use href="#st" x="1256.91" y="658.90"/><use href="#st" x="1260.00" y="658.90"/><use href="#st" x="1262.67" y="658.90"/><use href="#st" x="1265.66" y="658.90"/><use href="#st" x="1268.60" y="658.90"/><use href="#st" x="1275.67" y="658.90"/><use href="#st" x="1278.93" y="657.40"/><use href="#st" x="1282.49" y="655.90"/><use href="#st" x="1284.36" y="654.40"/><use href="#st" x="1281.75" y="648.00"/><use href="#st" x="1282.44" y="639.25"/><use href="#st" x="1282.79" y="630.50"/><use href="#st" x="1283.74" y="621.75"/><use href="#st" x="1285.70" y="613.00"/><use href="#st" x="1284.15" y="604.25"/><use href="#st" x="1286.10" y="595.50"/><use href="#st" x="1288.03" y="586.75"/><use href="#st" x="1287.29" y="578.00"/><use href="#st" x="1287.54" y="603.79"/><use href="#st" x="1293.21" y="560.55"/><use href="#st" x="1298.68" y="544.47"/><use href="#st" x="1304.03" y="535.60"/><use href="#st" x="1309.30" y="521.17"/><use href="#st" x="1314.52" y="511.04"/><use href="#st" x="1319.69" y="502.80"/><use href="#st" x="1324.82" y="495.93"/><use href="#st" x="1329.91" y="489.93"/><use href="#st" x="1334.98" y="485.06"/><use href="#st" x="1340.02" y="480.54"/><use href="#st" x="1345.03" y="476.25"/><use href="#st" x="1350.02" y="472.28"/><use href="#st" x="1355.00" y="468.33"/><use href="#st" x="1359.95" y="464.51"/><use href="#st" x="1364.89" y="460.70"/><use href="#st" x="1369.81" y="457.03"/><use href="#st" x="1374.72" y="453.44"/><use href="#st" x="1379.61" y="449.92"/><use href="#st" x="1384.49" y="446.66"/><use href="#st" x="1389.35" y="443.40"/><use href="#st" x="1394.21" y="440.54"/><use href="#st" x="1399.05" y="437.80"/><use href="#st" x="1403.89" y="435.17"/><use href="#st" x="1408.71" y="432.74"/><use href="#st" x="1413.52" y="430.32"/><use href="#st" x="1418.32" y="427.93"/><use href="#st" x="1423.12" y="425.54"/><use href="#st" x="1427.90" y="423.21"/><use href="#st" x="1432.68" y="420.99"/><use href="#st" x="1437.45" y="418.78"/><use href="#st" x="1442.21" y="416.84"/><use href="#st" x="1446.97" y="414.93"/><use href="#st" x="1451.71" y="413.10"/><use href="#st" x="1456.45" y="411.36"/><use href="#st" x="1461.18" y="409.62"/><use href="#st" x="1465.91" y="408.18"/><use href="#st" x="1470.63" y="406.76"/><use href="#st" x="1475.34" y="405.29"/><use href="#st" x="1480.05" y="403.74"/></g><g stroke="#0b56a0"><use href="#ci" x="1173.93" y="658.90"/><use href="#ci" x="1177.44" y="658.90"/><use href="#ci" x="1180.95" y="658.90"/><use href="#ci" x="1184.46" y="658.90"/><use href="#ci" x="1187.97" y="658.90"/><use href="#ci" x="1191.48" y="658.90"/><use href="#ci" x="1195.00" y="658.90"/><use href="#ci" x="1198.51" y="658.90"/><use href="#ci" x="1216.80" y="658.90"/><use href="#ci" x="1220.07" y="658.90"/><use href="#ci" x="1221.47" y="658.90"/><use href="#ci" x="1224.06" y="658.90"/><use href="#ci" x="1227.68" y="658.90"/><use href="#ci" x="1230.38" y="658.90"/><use href="#ci" x="1232.78" y="658.90"/><use href="#ci" x="1236.10" y="658.90"/><use href="#ci" x="1237.58" y="658.90"/><use href="#ci" x="1241.91" y="658.90"/><use href="#ci" x="1244.19" y="658.90"/><use href="#ci" x="1246.70" y="658.90"/><use href="#ci" x="1250.51" y="658.90"/><use href="#ci" x="1253.23" y="658.90"/><use href="#ci" x="1256.77" y="658.90"/><use href="#ci" x="1258.41" y="658.90"/><use href="#ci" x="1262.22" y="658.90"/><use href="#ci" x="1265.13" y="658.90"/><use href="#ci" x="1268.51" y="658.90"/><use href="#ci" x="1274.71" y="658.90"/><use href="#ci" x="1277.40" y="657.40"/><use href="#ci" x="1281.59" y="655.90"/><use href="#ci" x="1284.34" y="654.40"/><use href="#ci" x="1284.18" y="648.00"/><use href="#ci" x="1283.10" y="639.25"/><use href="#ci" x="1283.38" y="630.50"/><use href="#ci" x="1284.55" y="621.75"/><use href="#ci" x="1284.85" y="613.00"/><use href="#ci" x="1286.85" y="604.25"/><use href="#ci" x="1287.11" y="595.50"/><use href="#ci" x="1287.08" y="586.75"/><use href="#ci" x="1287.13" y="578.00"/><use href="#ci" x="1291.62" y="563.77"/><use href="#ci" x="1297.16" y="555.36"/><use href="#ci" x="1302.56" y="538.94"/><use href="#ci" x="1307.87" y="525.41"/><use href="#ci" x="1313.12" y="514.55"/><use href="#ci" x="1318.31" y="505.80"/><use href="#ci" x="1323.46" y="498.33"/><use href="#ci" x="1328.57" y="492.31"/><use href="#ci" x="1333.65" y="487.05"/><use href="#ci" x="1338.70" y="482.52"/><use href="#ci" x="1343.73" y="478.09"/><use href="#ci" x="1348.73" y="474.11"/><use href="#ci" x="1353.71" y="470.14"/><use href="#ci" x="1358.68" y="466.29"/><use href="#ci" x="1363.62" y="462.47"/><use href="#ci" x="1368.55" y="458.75"/><use href="#ci" x="1373.46" y="455.15"/><use href="#ci" x="1378.36" y="451.57"/><use href="#ci" x="1383.25" y="448.29"/><use href="#ci" x="1388.12" y="445.02"/><use href="#ci" x="1392.98" y="442.04"/><use href="#ci" x="1397.83" y="439.29"/><use href="#ci" x="1402.67" y="436.58"/><use href="#ci" x="1407.50" y="434.15"/><use href="#ci" x="1412.32" y="431.73"/><use href="#ci" x="1417.12" y="429.33"/><use href="#ci" x="1421.92" y="426.93"/><use href="#ci" x="1426.71" y="424.57"/><use href="#ci" x="1431.49" y="422.35"/><use href="#ci" x="1436.27" y="420.13"/><use href="#ci" x="1441.03" y="418.11"/><use href="#ci" x="1445.79" y="416.20"/><use href="#ci" x="1450.54" y="414.33"/><use href="#ci" x="1455.28" y="412.58"/><use href="#ci" x="1460.02" y="410.85"/><use href="#ci" x="1464.75" y="409.32"/><use href="#ci" x="1469.47" y="407.91"/><use href="#ci" x="1474.19" y="406.47"/><use href="#ci" x="1478.90" y="404.92"/><use href="#ci" x="1483.60" y="403.60"/></g><g stroke="#0b56a0"><use href="#st" x="1172.87" y="658.90"/><use href="#st" x="1176.75" y="658.90"/><use href="#st" x="1180.62" y="658.90"/><use href="#st" x="1184.50" y="658.90"/><use href="#st" x="1188.38" y="658.90"/><use href="#st" x="1192.26" y="658.90"/><use href="#st" x="1196.14" y="658.90"/><use href="#st" x="1200.01" y="658.90"/><use href="#st" x="1216.67" y="658.90"/><use href="#st" x="1219.22" y="658.90"/><use href="#st" x="1220.45" y="658.90"/><use href="#st" x="1223.39" y="658.90"/><use href="#st" x="1226.08" y="658.90"/><use href="#st" x="1228.68" y="658.90"/><use href="#st" x="1231.58" y="658.90"/><use href="#st" x="1234.63" y="658.90"/><use href="#st" x="1237.64" y="658.90"/><use href="#st" x="1240.15" y="658.90"/><use href="#st" x="1242.92" y="658.90"/><use href="#st" x="1246.20" y="658.90"/><use href="#st" x="1248.97" y="658.90"/><use href="#st" x="1252.33" y="658.90"/><use href="#st" x="1255.99" y="658.90"/><use href="#st" x="1258.98" y="658.90"/><use href="#st" x="1262.74" y="658.90"/><use href="#st" x="1265.19" y="658.90"/><use href="#st" x="1268.34" y="658.90"/><use href="#st" x="1275.54" y="658.90"/><use href="#st" x="1278.84" y="657.40"/><use href="#st" x="1281.74" y="655.90"/><use href="#st" x="1284.81" y="654.40"/><use href="#st" x="1283.32" y="648.00"/><use href="#st" x="1282.79" y="639.25"/><use href="#st" x="1284.46" y="630.50"/><use href="#st" x="1284.46" y="621.75"/><use href="#st" x="1284.20" y="613.00"/><use href="#st" x="1284.71" y="604.25"/><use href="#st" x="1284.96" y="595.50"/><use href="#st" x="1286.64" y="586.75"/><use href="#st" x="1286.54" y="578.00"/><use href="#st" x="1290.76" y="565.66"/><use href="#st" x="1296.34" y="557.20"/><use href="#st" x="1301.76" y="540.85"/><use href="#st" x="1307.08" y="528.27"/><use href="#st" x="1312.33" y="516.68"/><use href="#st" x="1317.53" y="507.64"/><use href="#st" x="1322.69" y="499.84"/><use href="#st" x="1327.80" y="493.81"/><use href="#st" x="1332.89" y="488.33"/><use href="#st" x="1337.94" y="483.80"/><use href="#st" x="1342.97" y="479.29"/><use href="#st" x="1347.98" y="475.30"/><use href="#st" x="1352.97" y="471.34"/><use href="#st" x="1357.93" y="467.46"/><use href="#st" x="1362.88" y="463.65"/><use href="#st" x="1367.81" y="459.89"/><use href="#st" x="1372.73" y="456.29"/><use href="#st" x="1377.63" y="452.71"/><use href="#st" x="1382.52" y="449.38"/><use href="#st" x="1387.39" y="446.11"/><use href="#st" x="1392.25" y="443.05"/><use href="#st" x="1397.11" y="440.31"/><use href="#st" x="1401.95" y="437.57"/><use href="#st" x="1406.77" y="435.12"/><use href="#st" x="1411.59" y="432.69"/><use href="#st" x="1416.40" y="430.28"/><use href="#st" x="1421.20" y="427.89"/><use href="#st" x="1425.99" y="425.50"/><use href="#st" x="1430.78" y="423.28"/><use href="#st" x="1435.55" y="421.06"/><use href="#st" x="1440.32" y="419.00"/><use href="#st" x="1445.08" y="417.09"/><use href="#st" x="1449.83" y="415.19"/><use href="#st" x="1454.57" y="413.45"/><use href="#st" x="1459.31" y="411.71"/><use href="#st" x="1464.04" y="410.14"/><use href="#st" x="1468.76" y="408.72"/><use href="#st" x="1473.48" y="407.31"/><use href="#st" x="1478.19" y="405.75"/><use href="#st" x="1482.89" y="404.20"/></g><path d="M642.83,659.73 L1000.00,362.21" stroke="#000" stroke-width="1.5" stroke-dasharray="12.5 8.2" fill="none" clip-path="url(#clipc)"/><path d="M1624.70,622.70 L2000.00,388.51" stroke="#000" stroke-width="1.5" stroke-dasharray="12.5 8.2" fill="none" clip-path="url(#clipf)"/><g fill="#cc5537"><circle cx="680.99" cy="621.00" r="3.6"/><circle cx="709.53" cy="606.60" r="3.6"/><circle cx="733.10" cy="590.80" r="3.6"/><circle cx="753.19" cy="576.10" r="3.6"/><circle cx="770.68" cy="550.70" r="3.6"/><circle cx="786.18" cy="538.70" r="3.6"/><circle cx="800.09" cy="522.30" r="3.6"/><circle cx="812.70" cy="511.00" r="3.6"/><circle cx="824.25" cy="501.40" r="3.6"/><circle cx="834.89" cy="492.50" r="3.6"/><circle cx="844.75" cy="484.30" r="3.6"/><circle cx="853.95" cy="477.10" r="3.6"/><circle cx="862.57" cy="467.10" r="3.6"/><circle cx="870.67" cy="463.70" r="3.6"/><circle cx="878.32" cy="457.20" r="3.6"/><circle cx="885.56" cy="452.40" r="3.6"/><circle cx="892.43" cy="453.80" r="3.6"/><circle cx="898.97" cy="450.00" r="3.6"/><circle cx="905.21" cy="451.40" r="3.6"/><circle cx="911.18" cy="441.80" r="3.6"/><circle cx="916.89" cy="437.00" r="3.6"/><circle cx="922.38" cy="432.50" r="3.6"/><circle cx="927.65" cy="430.10" r="3.6"/><circle cx="932.73" cy="428.10" r="3.6"/><circle cx="937.62" cy="425.45" r="3.6"/><circle cx="942.34" cy="423.15" r="3.6"/><circle cx="946.91" cy="420.92" r="3.6"/><circle cx="951.32" cy="418.77" r="3.6"/><circle cx="955.60" cy="416.68" r="3.6"/><circle cx="959.75" cy="414.66" r="3.6"/><circle cx="963.77" cy="412.69" r="3.6"/><circle cx="967.68" cy="410.79" r="3.6"/><circle cx="971.48" cy="408.93" r="3.6"/><circle cx="975.17" cy="407.13" r="3.6"/><circle cx="978.77" cy="405.37" r="3.6"/><circle cx="982.28" cy="403.66" r="3.6"/><circle cx="985.69" cy="402.00" r="3.6"/></g><g fill="#cc5537"><circle cx="1641.15" cy="634.50" r="3.6"/><circle cx="1683.62" cy="595.80" r="3.6"/><circle cx="1714.77" cy="567.10" r="3.6"/><circle cx="1739.37" cy="553.70" r="3.6"/><circle cx="1759.71" cy="546.20" r="3.6"/><circle cx="1777.04" cy="535.20" r="3.6"/><circle cx="1792.15" cy="516.70" r="3.6"/><circle cx="1805.54" cy="508.50" r="3.6"/><circle cx="1817.55" cy="501.30" r="3.6"/><circle cx="1828.46" cy="493.50" r="3.6"/><circle cx="1838.43" cy="487.30" r="3.6"/><circle cx="1847.63" cy="481.50" r="3.6"/><circle cx="1856.16" cy="476.00" r="3.6"/><circle cx="1864.11" cy="471.20" r="3.6"/><circle cx="1871.56" cy="466.40" r="3.6"/><circle cx="1878.57" cy="463.00" r="3.6"/><circle cx="1885.18" cy="458.90" r="3.6"/><circle cx="1891.44" cy="455.10" r="3.6"/><circle cx="1897.39" cy="453.10" r="3.6"/><circle cx="1903.04" cy="451.70" r="3.6"/><circle cx="1908.44" cy="450.00" r="3.6"/><circle cx="1913.60" cy="444.50" r="3.6"/><circle cx="1918.55" cy="442.18" r="3.6"/><circle cx="1923.29" cy="439.91" r="3.6"/><circle cx="1927.86" cy="437.72" r="3.6"/><circle cx="1932.25" cy="435.62" r="3.6"/><circle cx="1936.48" cy="433.59" r="3.6"/><circle cx="1940.57" cy="431.64" r="3.6"/><circle cx="1944.52" cy="429.75" r="3.6"/><circle cx="1948.34" cy="427.92" r="3.6"/><circle cx="1952.04" cy="426.15" r="3.6"/><circle cx="1955.62" cy="424.43" r="3.6"/><circle cx="1959.11" cy="422.76" r="3.6"/><circle cx="1962.49" cy="421.14" r="3.6"/><circle cx="1965.77" cy="419.57" r="3.6"/><circle cx="1968.97" cy="418.04" r="3.6"/><circle cx="1972.08" cy="416.55" r="3.6"/><circle cx="1975.12" cy="415.10" r="3.6"/><circle cx="1978.07" cy="413.68" r="3.6"/></g><path d="M138.20,173.4H202.80" stroke="#d9e7f5" stroke-width="1.5"/><use href="#ci" x="170.50" y="173.4" stroke="#d9e7f5"/><path d="M138.20,215.4H202.80" stroke="#d9e7f5" stroke-width="1.5"/><use href="#st" x="170.50" y="215.4" stroke="#d9e7f5"/><path d="M138.20,257.4H202.80" stroke="#8bbfdd" stroke-width="1.5"/><use href="#ci" x="170.50" y="257.4" stroke="#8bbfdd"/><path d="M331.30,173.4H395.40" stroke="#8bbfdd" stroke-width="1.5"/><use href="#st" x="363.00" y="173.4" stroke="#8bbfdd"/><path d="M331.30,215.4H395.40" stroke="#0b56a0" stroke-width="1.5"/><use href="#ci" x="363.00" y="215.4" stroke="#0b56a0"/><path d="M331.30,257.4H395.40" stroke="#0b56a0" stroke-width="1.5"/><use href="#st" x="363.00" y="257.4" stroke="#0b56a0"/><path d="M1129.90,173.4H1194.50" stroke="#d9e7f5" stroke-width="1.5"/><use href="#ci" x="1162.20" y="173.4" stroke="#d9e7f5"/><path d="M1129.90,215.4H1194.50" stroke="#d9e7f5" stroke-width="1.5"/><use href="#st" x="1162.20" y="215.4" stroke="#d9e7f5"/><path d="M1129.90,257.4H1194.50" stroke="#8bbfdd" stroke-width="1.5"/><use href="#ci" x="1162.20" y="257.4" stroke="#8bbfdd"/><path d="M1323.00,173.4H1387.10" stroke="#8bbfdd" stroke-width="1.5"/><use href="#st" x="1354.70" y="173.4" stroke="#8bbfdd"/><path d="M1323.00,215.4H1387.10" stroke="#0b56a0" stroke-width="1.5"/><use href="#ci" x="1354.70" y="215.4" stroke="#0b56a0"/><path d="M1323.00,257.4H1387.10" stroke="#0b56a0" stroke-width="1.5"/><use href="#st" x="1354.70" y="257.4" stroke="#0b56a0"/><g transform="translate(371.44,375.38) scale(1.0607,0.9026)" fill="#262626" stroke="#262626" stroke-width="0.236"><text x="0.00" y="-0.00" font-family="'Liberation Serif', serif" font-size="39.00">charge fluctuations </text><text x="307.54" y="-0.00" font-family="'Liberation Serif', serif" font-size="39.00" font-style="italic">h</text><text x="327.04" y="5.85" font-family="'Liberation Serif', serif" font-size="27.30" font-style="italic">z</text></g><g transform="translate(1363.14,375.38) scale(1.0607,0.9026)" fill="#262626" stroke="#262626" stroke-width="0.236"><text x="0.00" y="-0.00" font-family="'Liberation Serif', serif" font-size="39.00">charge fluctuations </text><text x="307.54" y="-0.00" font-family="'Liberation Serif', serif" font-size="39.00" font-style="italic">h</text><text x="327.04" y="5.85" font-family="'Liberation Serif', serif" font-size="27.30" font-style="italic">z</text></g><g transform="translate(28.72,236.22) scale(0.9641,1.1394) rotate(-90)" fill="#262626" stroke="#262626" stroke-width="0.219"><text x="0.00" y="-0.00" font-family="'Liberation Serif', serif" font-size="39.00">|</text><text x="7.81" y="-0.00" font-family="'DejaVu Serif', serif" font-size="39.00" stroke-width="0">⟨</text><text x="23.02" y="-0.00" font-family="'Liberation Serif', serif" font-size="39.00" font-style="italic">X</text><text transform="translate(54.65,2.73) scale(1.380,1)" font-family="'Liberation Serif', serif" font-size="39.00">−</text><text x="92.80" y="-0.00" font-family="'Liberation Serif', serif" font-size="39.00" font-style="italic">Z</text><text x="114.49" y="-0.00" font-family="'DejaVu Serif', serif" font-size="39.00" stroke-width="0">⟩</text><text x="129.70" y="-0.00" font-family="'Liberation Serif', serif" font-size="39.00">|</text></g><g transform="translate(1035.33,317.91) scale(0.8632,1.1066) rotate(-90)" fill="#262626" stroke="#262626" stroke-width="0.226"><text x="0.00" y="-0.00" font-family="'Liberation Serif', serif" font-size="39.00">FM order para. </text><text x="244.76" y="-0.00" font-family="'Liberation Serif', serif" font-size="39.00" font-style="italic">O</text><text x="272.92" y="5.85" font-family="'Liberation Serif', serif" font-size="27.30" font-style="italic">Z</text></g><g transform="translate(65.22,655.26) scale(0.9750,1.1524) rotate(-90)" fill="#262626" stroke="#262626" stroke-width="0.217"><text x="0.00" y="-0.00" font-family="'Liberation Serif', serif" font-size="39.00">|</text><text x="7.81" y="-0.00" font-family="'DejaVu Serif', serif" font-size="39.00" stroke-width="0">⟨</text><text x="23.02" y="-0.00" font-family="'Liberation Serif', serif" font-size="39.00" font-style="italic">X</text><text transform="translate(54.65,2.73) scale(1.380,1)" font-family="'Liberation Serif', serif" font-size="39.00">−</text><text x="92.80" y="-0.00" font-family="'Liberation Serif', serif" font-size="39.00" font-style="italic">Z</text><text x="114.49" y="-0.00" font-family="'DejaVu Serif', serif" font-size="39.00" stroke-width="0">⟩</text><text x="129.70" y="-0.00" font-family="'Liberation Serif', serif" font-size="39.00">|</text><text x="137.51" y="-0.00" font-family="'DejaVu Serif', serif" font-size="35.10" font-style="italic">ξ</text><text x="158.01" y="-15.60" font-family="'Liberation Serif', serif" font-size="27.30" font-style="italic">β</text><text x="171.61" y="-11.70" font-family="'Liberation Serif', serif" font-size="19.50">−</text><text x="182.61" y="-15.60" font-family="'Liberation Serif', serif" font-size="27.30">/</text><text x="190.19" y="-15.60" font-family="'DejaVu Serif', serif" font-size="24.57" font-style="italic">ν</text><text x="205.13" y="-11.70" font-family="'Liberation Serif', serif" font-size="19.50">+</text></g><g transform="translate(184.54,749.10) scale(1.1055,1.0000)" fill="#262626" stroke="#262626" stroke-width="0.226"><text x="0.00" y="-0.00" font-family="'Liberation Serif', serif" font-size="39.00">(</text><text x="12.99" y="-0.00" font-family="'Liberation Serif', serif" font-size="39.00" font-style="italic">h</text><text x="32.49" y="5.85" font-family="'Liberation Serif', serif" font-size="27.30" font-style="italic">z</text><text transform="translate(50.91,2.73) scale(1.380,1)" font-family="'Liberation Serif', serif" font-size="39.00">−</text><text x="89.06" y="-0.00" font-family="'Liberation Serif', serif" font-size="39.00" font-style="italic">h</text><text x="108.56" y="7.80" font-family="'Liberation Serif', serif" font-size="27.30" font-style="italic">zc</text><text x="110.51" y="-20.28" font-family="'Liberation Serif', serif" font-size="27.30">(</text><text x="119.61" y="-20.28" font-family="'Liberation Serif', serif" font-size="27.30" font-style="italic">M</text><text x="142.35" y="-20.28" font-family="'Liberation Serif', serif" font-size="27.30">)</text><text x="151.44" y="-0.00" font-family="'Liberation Serif', serif" font-size="39.00">)</text><text x="164.42" y="-0.00" font-family="'DejaVu Serif', serif" font-size="35.10" font-style="italic">ξ</text><text x="184.93" y="-16.38" font-family="'Liberation Serif', serif" font-size="27.30">1/</text><text x="206.16" y="-16.38" font-family="'DejaVu Serif', serif" font-size="24.57" font-style="italic">ν</text><text x="221.10" y="-12.48" font-family="'Liberation Serif', serif" font-size="19.50">+</text></g><g transform="translate(543.77,607.80) scale(0.9590,1.1341) rotate(-90)" fill="#262626" stroke="#262626" stroke-width="0.220"><text x="0.00" y="-0.00" font-family="'Liberation Serif', serif" font-size="39.00">|</text><text x="7.81" y="-0.00" font-family="'DejaVu Serif', serif" font-size="39.00" stroke-width="0">⟨</text><text x="23.02" y="-0.00" font-family="'Liberation Serif', serif" font-size="39.00" font-style="italic">X</text><text transform="translate(54.65,2.73) scale(1.380,1)" font-family="'Liberation Serif', serif" font-size="39.00">−</text><text x="92.80" y="-0.00" font-family="'Liberation Serif', serif" font-size="39.00" font-style="italic">Z</text><text x="114.49" y="-0.00" font-family="'DejaVu Serif', serif" font-size="39.00" stroke-width="0">⟩</text><text x="129.70" y="-0.00" font-family="'Liberation Serif', serif" font-size="39.00">|</text></g><g transform="translate(733.25,747.92) scale(1.1004,0.9723)" fill="#262626" stroke="#262626" stroke-width="0.227"><text x="0.00" y="-0.00" font-family="'Liberation Serif', serif" font-size="39.00" font-style="italic">h</text><text x="19.50" y="5.85" font-family="'Liberation Serif', serif" font-size="27.30" font-style="italic">z</text><text transform="translate(37.92,2.73) scale(1.380,1)" font-family="'Liberation Serif', serif" font-size="39.00">−</text><text x="76.08" y="-0.00" font-family="'Liberation Serif', serif" font-size="39.00" font-style="italic">h</text><text x="95.58" y="7.80" font-family="'Liberation Serif', serif" font-size="27.30" font-style="italic">zc</text><text x="97.53" y="-20.28" font-family="'Liberation Serif', serif" font-size="27.30">(</text><text x="106.62" y="-20.28" font-family="'Liberation Serif', serif" font-size="27.30" font-style="italic">M</text><text x="129.36" y="-20.28" font-family="'Liberation Serif', serif" font-size="27.30">)</text></g><g transform="translate(1056.03,600.68) scale(0.9381,1.1415) rotate(-90)" fill="#262626" stroke="#262626" stroke-width="0.219"><text x="0.00" y="-0.00" font-family="'Liberation Serif', serif" font-size="39.00" font-style="italic">O</text><text x="28.16" y="5.85" font-family="'Liberation Serif', serif" font-size="27.30" font-style="italic">Z</text><text x="43.35" y="-0.00" font-family="'DejaVu Serif', serif" font-size="35.10" font-style="italic">ξ</text><text x="63.85" y="-16.38" font-family="'Liberation Serif', serif" font-size="27.30" font-style="italic">β</text><text x="77.45" y="-11.70" font-family="'Liberation Serif', serif" font-size="19.50" font-style="italic">ϕ</text><text x="87.54" y="-16.38" font-family="'Liberation Serif', serif" font-size="27.30">/</text><text x="95.12" y="-16.38" font-family="'DejaVu Serif', serif" font-size="24.57" font-style="italic">ν</text><text x="110.06" y="-12.48" font-family="'Liberation Serif', serif" font-size="19.50">+</text></g><g transform="translate(1176.84,749.10) scale(1.1055,1.0000)" fill="#262626" stroke="#262626" stroke-width="0.226"><text x="0.00" y="-0.00" font-family="'Liberation Serif', serif" font-size="39.00">(</text><text x="12.99" y="-0.00" font-family="'Liberation Serif', serif" font-size="39.00" font-style="italic">h</text><text x="32.49" y="5.85" font-family="'Liberation Serif', serif" font-size="27.30" font-style="italic">z</text><text transform="translate(50.91,2.73) scale(1.380,1)" font-family="'Liberation Serif', serif" font-size="39.00">−</text><text x="89.06" y="-0.00" font-family="'Liberation Serif', serif" font-size="39.00" font-style="italic">h</text><text x="108.56" y="7.80" font-family="'Liberation Serif', serif" font-size="27.30" font-style="italic">zc</text><text x="110.51" y="-20.28" font-family="'Liberation Serif', serif" font-size="27.30">(</text><text x="119.61" y="-20.28" font-family="'Liberation Serif', serif" font-size="27.30" font-style="italic">M</text><text x="142.35" y="-20.28" font-family="'Liberation Serif', serif" font-size="27.30">)</text><text x="151.44" y="-0.00" font-family="'Liberation Serif', serif" font-size="39.00">)</text><text x="164.42" y="-0.00" font-family="'DejaVu Serif', serif" font-size="35.10" font-style="italic">ξ</text><text x="184.93" y="-16.38" font-family="'Liberation Serif', serif" font-size="27.30">1/</text><text x="206.16" y="-16.38" font-family="'DejaVu Serif', serif" font-size="24.57" font-style="italic">ν</text><text x="221.10" y="-12.48" font-family="'Liberation Serif', serif" font-size="19.50">+</text></g><g transform="translate(1551.87,555.30) scale(1.0219,1.0976) rotate(-90)" fill="#262626" stroke="#262626" stroke-width="0.228"><text x="0.00" y="-0.00" font-family="'Liberation Serif', serif" font-size="39.00" font-style="italic">O</text><text x="28.16" y="5.85" font-family="'Liberation Serif', serif" font-size="27.30" font-style="italic">Z</text></g><g transform="translate(1725.50,747.92) scale(1.1007,0.9723)" fill="#262626" stroke="#262626" stroke-width="0.227"><text x="0.00" y="-0.00" font-family="'Liberation Serif', serif" font-size="39.00" font-style="italic">h</text><text x="19.50" y="5.85" font-family="'Liberation Serif', serif" font-size="27.30" font-style="italic">z</text><text transform="translate(37.92,2.73) scale(1.380,1)" font-family="'Liberation Serif', serif" font-size="39.00">−</text><text x="76.08" y="-0.00" font-family="'Liberation Serif', serif" font-size="39.00" font-style="italic">h</text><text x="95.58" y="7.80" font-family="'Liberation Serif', serif" font-size="27.30" font-style="italic">zc</text><text x="97.53" y="-20.28" font-family="'Liberation Serif', serif" font-size="27.30">(</text><text x="106.62" y="-20.28" font-family="'Liberation Serif', serif" font-size="27.30" font-style="italic">M</text><text x="129.36" y="-20.28" font-family="'Liberation Serif', serif" font-size="27.30">)</text></g><g transform="translate(749.41,632.01) scale(1.0130,1.0485)" fill="#000" stroke="#000" stroke-width="0.238"><text x="0.00" y="-0.00" font-family="'Liberation Serif', serif" font-size="35.00" font-style="italic">β</text><text x="17.43" y="5.25" font-family="'Liberation Serif', serif" font-size="24.50" font-style="italic">local</text><text transform="translate(76.22,2.45) scale(1.380,1)" font-family="'Liberation Serif', serif" font-size="35.00">=</text><text x="113.26" y="-0.00" font-family="'Liberation Serif', serif" font-size="35.00">0.83(5)</text></g><g transform="translate(1707.75,618.64) scale(1.0537,1.0455)" fill="#000" stroke="#000" stroke-width="0.237"><text x="0.00" y="-0.00" font-family="'Liberation Serif', serif" font-size="35.00" font-style="italic">β</text><text x="17.43" y="5.25" font-family="'Liberation Serif', serif" font-size="24.50" font-style="italic">FM</text><text transform="translate(62.61,2.45) scale(1.380,1)" font-family="'Liberation Serif', serif" font-size="35.00">=</text><text x="99.65" y="-0.00" font-family="'Liberation Serif', serif" font-size="35.00">0.34(4)</text></g><g transform="translate(261.41,134.36) scale(1.0870,1.0424)" fill="#000" stroke="#000" stroke-width="0.230"><text x="0.00" y="-0.00" font-family="'Liberation Serif', serif" font-size="35.00">(</text><text x="11.66" y="-0.00" font-family="'Liberation Serif', serif" font-size="35.00" font-style="italic">D</text><text x="36.93" y="-0.00" font-family="'Liberation Serif', serif" font-size="35.00">,</text><text x="54.43" y="-0.00" font-family="'Liberation Serif', serif" font-size="35.00" font-style="italic">χ</text><text x="69.83" y="-0.00" font-family="'Liberation Serif', serif" font-size="35.00">)</text><text transform="translate(91.28,2.45) scale(1.380,1)" font-family="'Liberation Serif', serif" font-size="35.00">=</text></g><g transform="translate(1253.11,134.36) scale(1.0870,1.0424)" fill="#000" stroke="#000" stroke-width="0.230"><text x="0.00" y="-0.00" font-family="'Liberation Serif', serif" font-size="35.00">(</text><text x="11.66" y="-0.00" font-family="'Liberation Serif', serif" font-size="35.00" font-style="italic">D</text><text x="36.93" y="-0.00" font-family="'Liberation Serif', serif" font-size="35.00">,</text><text x="54.43" y="-0.00" font-family="'Liberation Serif', serif" font-size="35.00" font-style="italic">χ</text><text x="69.83" y="-0.00" font-family="'Liberation Serif', serif" font-size="35.00">)</text><text transform="translate(91.28,2.45) scale(1.380,1)" font-family="'Liberation Serif', serif" font-size="35.00">=</text></g><g transform="translate(209.92,182.40) scale(0.9841,1.0719)" fill="#000" stroke="#000" stroke-width="0.233"><text x="0.00" y="-0.00" font-family="'Liberation Serif', serif" font-size="35.00">(3,</text><text x="43.86" y="-0.00" font-family="'Liberation Serif', serif" font-size="35.00">90)</text></g><g transform="translate(1201.62,182.40) scale(0.9841,1.0719)" fill="#000" stroke="#000" stroke-width="0.233"><text x="0.00" y="-0.00" font-family="'Liberation Serif', serif" font-size="35.00">(3,</text><text x="43.86" y="-0.00" font-family="'Liberation Serif', serif" font-size="35.00">90)</text></g><g transform="translate(209.91,224.60) scale(0.9914,1.0719)" fill="#000" stroke="#000" stroke-width="0.233"><text x="0.00" y="-0.00" font-family="'Liberation Serif', serif" font-size="35.00">(3,</text><text x="43.86" y="-0.00" font-family="'Liberation Serif', serif" font-size="35.00">120)</text></g><g transform="translate(1201.61,224.60) scale(0.9914,1.0719)" fill="#000" stroke="#000" stroke-width="0.233"><text x="0.00" y="-0.00" font-family="'Liberation Serif', serif" font-size="35.00">(3,</text><text x="43.86" y="-0.00" font-family="'Liberation Serif', serif" font-size="35.00">120)</text></g><g transform="translate(209.91,266.60) scale(0.9914,1.0719)" fill="#000" stroke="#000" stroke-width="0.233"><text x="0.00" y="-0.00" font-family="'Liberation Serif', serif" font-size="35.00">(4,</text><text x="43.86" y="-0.00" font-family="'Liberation Serif', serif" font-size="35.00">160)</text></g><g transform="translate(1201.61,266.60) scale(0.9914,1.0719)" fill="#000" stroke="#000" stroke-width="0.233"><text x="0.00" y="-0.00" font-family="'Liberation Serif', serif" font-size="35.00">(4,</text><text x="43.86" y="-0.00" font-family="'Liberation Serif', serif" font-size="35.00">160)</text></g><g transform="translate(402.21,182.40) scale(0.9886,1.0719)" fill="#000" stroke="#000" stroke-width="0.233"><text x="0.00" y="-0.00" font-family="'Liberation Serif', serif" font-size="35.00">(4,</text><text x="43.86" y="-0.00" font-family="'Liberation Serif', serif" font-size="35.00">180)</text></g><g transform="translate(1393.91,182.40) scale(0.9886,1.0719)" fill="#000" stroke="#000" stroke-width="0.233"><text x="0.00" y="-0.00" font-family="'Liberation Serif', serif" font-size="35.00">(4,</text><text x="43.86" y="-0.00" font-family="'Liberation Serif', serif" font-size="35.00">180)</text></g><g transform="translate(402.21,224.60) scale(0.9886,1.0719)" fill="#000" stroke="#000" stroke-width="0.233"><text x="0.00" y="-0.00" font-family="'Liberation Serif', serif" font-size="35.00">(5,</text><text x="43.86" y="-0.00" font-family="'Liberation Serif', serif" font-size="35.00">230)</text></g><g transform="translate(1393.91,224.60) scale(0.9886,1.0719)" fill="#000" stroke="#000" stroke-width="0.233"><text x="0.00" y="-0.00" font-family="'Liberation Serif', serif" font-size="35.00">(5,</text><text x="43.86" y="-0.00" font-family="'Liberation Serif', serif" font-size="35.00">230)</text></g><g transform="translate(402.21,266.60) scale(0.9886,1.0719)" fill="#000" stroke="#000" stroke-width="0.233"><text x="0.00" y="-0.00" font-family="'Liberation Serif', serif" font-size="35.00">(5,</text><text x="43.86" y="-0.00" font-family="'Liberation Serif', serif" font-size="35.00">270)</text></g><g transform="translate(1393.91,266.60) scale(0.9886,1.0719)" fill="#000" stroke="#000" stroke-width="0.233"><text x="0.00" y="-0.00" font-family="'Liberation Serif', serif" font-size="35.00">(5,</text><text x="43.86" y="-0.00" font-family="'Liberation Serif', serif" font-size="35.00">270)</text></g><g transform="translate(116.94,50.46) scale(1.0556,1.0625)" fill="#000" stroke="#000" stroke-width="0.235"><text x="0.00" y="-0.00" font-family="'Liberation Serif', serif" font-size="35.00">(a)</text></g><g transform="translate(1109.57,50.69) scale(1.0316,1.0303)" fill="#000" stroke="#000" stroke-width="0.242"><text x="0.00" y="-0.00" font-family="'Liberation Serif', serif" font-size="35.00">(d)</text></g><g transform="translate(139.27,430.69) scale(1.0316,1.0303)" fill="#000" stroke="#000" stroke-width="0.242"><text x="0.00" y="-0.00" font-family="'Liberation Serif', serif" font-size="35.00">(b)</text></g><g transform="translate(634.60,430.40) scale(0.9972,1.0719)" fill="#000" stroke="#000" stroke-width="0.233"><text x="0.00" y="-0.00" font-family="'Liberation Serif', serif" font-size="35.00">(c)</text></g><g transform="translate(1131.41,430.46) scale(0.9889,1.0625)" fill="#000" stroke="#000" stroke-width="0.235"><text x="0.00" y="-0.00" font-family="'Liberation Serif', serif" font-size="35.00">(e)</text></g><g transform="translate(1626.95,430.46) scale(1.0469,1.0625)" fill="#000" stroke="#000" stroke-width="0.235"><text x="0.00" y="-0.00" font-family="'Liberation Serif', serif" font-size="35.00">(f)</text></g></svg></body></html>
